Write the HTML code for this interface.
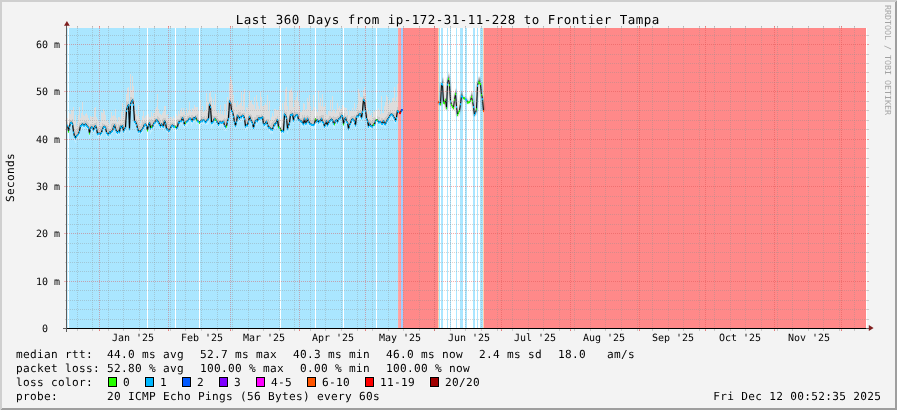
<!DOCTYPE html>
<html><head><meta charset="utf-8"><title>SmokePing</title>
<style>html,body{margin:0;padding:0;background:#f3f3f3;overflow:hidden}svg text{text-rendering:geometricPrecision}</style></head>
<body>
<svg width="897" height="410" viewBox="0 0 897 410" style="display:block">
<defs><linearGradient id="sg" x1="0" y1="0" x2="0" y2="1"><stop offset="0" stop-color="#000" stop-opacity="0"/><stop offset="1" stop-color="#000" stop-opacity="0.45"/></linearGradient></defs>
<rect width="897" height="410" fill="#f3f3f3"/>
<path d="M0 0H897L895 2H2V408L0 410Z" fill="#cfcfcf" shape-rendering="crispEdges"/>
<path d="M897 410H0L2 408H895V2L897 0Z" fill="#9e9e9e" shape-rendering="crispEdges"/>
<rect x="67" y="28" width="800" height="300" fill="#fff" shape-rendering="crispEdges"/>
<g shape-rendering="crispEdges">
<rect x="67" y="28" width="1" height="300" fill="#c4eeff"/>
<rect x="69" y="28" width="329" height="300" fill="#aae6ff"/>
<rect x="147" y="28" width="1" height="300" fill="#fff"/>
<rect x="175" y="28" width="1" height="300" fill="#fff"/>
<rect x="199" y="28" width="1" height="300" fill="#fff"/>
<rect x="280" y="28" width="1" height="300" fill="#fff"/>
<rect x="315" y="28" width="1" height="300" fill="#fff"/>
<rect x="343" y="28" width="1" height="300" fill="#fff"/>
<rect x="376" y="28" width="1" height="300" fill="#fff"/>
<rect x="398" y="28" width="40" height="300" fill="#ff8989"/>
<rect x="398" y="28" width="1" height="300" fill="#ffa8a4"/>
<rect x="399" y="28" width="2" height="300" fill="#ffa0a0"/>
<rect x="401" y="28" width="2" height="300" fill="#a3ccff"/>
<rect x="438" y="28" width="1" height="300" fill="#ffd2b0"/>
<rect x="439" y="28" width="1" height="300" fill="#aae6ff"/>
<rect x="441" y="28" width="2" height="300" fill="#aae6ff"/>
<rect x="447" y="28" width="1" height="300" fill="#aae6ff"/>
<rect x="450" y="28" width="1" height="300" fill="#aae6ff"/>
<rect x="456" y="28" width="1" height="300" fill="#aae6ff"/>
<rect x="460" y="28" width="3" height="300" fill="#aae6ff"/>
<rect x="465" y="28" width="2" height="300" fill="#aae6ff"/>
<rect x="473" y="28" width="2" height="300" fill="#aae6ff"/>
<rect x="477" y="28" width="1" height="300" fill="#aae6ff"/>
<rect x="480" y="28" width="3" height="300" fill="#aae6ff"/>
<rect x="483" y="28" width="1" height="300" fill="#ffd2b0"/>
<rect x="484" y="28" width="382" height="300" fill="#ff8989"/>
</g>
<g shape-rendering="crispEdges">
<rect x="67" y="117.8" width="1" height="7.3" fill="#dddddd"/>
<rect x="67" y="122.1" width="1" height="3.6" fill="#cbcbcb"/>
<rect x="67" y="125.1" width="1" height="3.5" fill="#fff" fill-opacity="0.25"/>
<rect x="69" y="112.9" width="1" height="13.9" fill="#dddddd"/>
<rect x="69" y="119.1" width="1" height="8.3" fill="#cbcbcb"/>
<rect x="69" y="126.9" width="1" height="4.9" fill="#fff" fill-opacity="0.25"/>
<rect x="70" y="113.6" width="1" height="9.1" fill="#dddddd"/>
<rect x="70" y="119.7" width="1" height="3.4" fill="#cbcbcb"/>
<rect x="70" y="122.7" width="1" height="3.6" fill="#fff" fill-opacity="0.25"/>
<rect x="71" y="110.4" width="1" height="11.9" fill="#dddddd"/>
<rect x="71" y="120.2" width="1" height="2.5" fill="#cbcbcb"/>
<rect x="71" y="122.3" width="1" height="4.6" fill="#fff" fill-opacity="0.25"/>
<rect x="72" y="110.2" width="1" height="13.7" fill="#dddddd"/>
<rect x="72" y="118.8" width="1" height="5.6" fill="#cbcbcb"/>
<rect x="72" y="123.9" width="1" height="5.4" fill="#fff" fill-opacity="0.25"/>
<rect x="73" y="107.2" width="1" height="24.8" fill="#dddddd"/>
<rect x="73" y="125.1" width="1" height="7.4" fill="#cbcbcb"/>
<rect x="73" y="132.0" width="1" height="3.1" fill="#fff" fill-opacity="0.25"/>
<rect x="74" y="120.8" width="1" height="15.4" fill="#dddddd"/>
<rect x="74" y="128.7" width="1" height="8.0" fill="#cbcbcb"/>
<rect x="74" y="136.1" width="1" height="4.5" fill="#fff" fill-opacity="0.25"/>
<rect x="75" y="115.0" width="1" height="23.0" fill="#dddddd"/>
<rect x="75" y="129.7" width="1" height="8.8" fill="#cbcbcb"/>
<rect x="75" y="138.0" width="1" height="4.8" fill="#fff" fill-opacity="0.25"/>
<rect x="76" y="125.6" width="1" height="10.1" fill="#dddddd"/>
<rect x="76" y="130.7" width="1" height="5.5" fill="#cbcbcb"/>
<rect x="76" y="135.7" width="1" height="3.5" fill="#fff" fill-opacity="0.25"/>
<rect x="77" y="122.0" width="1" height="13.0" fill="#dddddd"/>
<rect x="77" y="128.9" width="1" height="6.5" fill="#cbcbcb"/>
<rect x="77" y="134.9" width="1" height="5.3" fill="#fff" fill-opacity="0.25"/>
<rect x="78" y="115.4" width="1" height="18.4" fill="#dddddd"/>
<rect x="78" y="127.0" width="1" height="7.3" fill="#cbcbcb"/>
<rect x="78" y="133.8" width="1" height="5.2" fill="#fff" fill-opacity="0.25"/>
<rect x="79" y="106.9" width="1" height="24.3" fill="#dddddd"/>
<rect x="79" y="122.8" width="1" height="9.0" fill="#cbcbcb"/>
<rect x="79" y="131.2" width="1" height="4.5" fill="#fff" fill-opacity="0.25"/>
<rect x="80" y="117.6" width="1" height="8.1" fill="#dddddd"/>
<rect x="80" y="122.5" width="1" height="3.7" fill="#cbcbcb"/>
<rect x="80" y="125.7" width="1" height="5.4" fill="#fff" fill-opacity="0.25"/>
<rect x="81" y="113.2" width="1" height="12.0" fill="#dddddd"/>
<rect x="81" y="121.6" width="1" height="4.0" fill="#cbcbcb"/>
<rect x="81" y="125.2" width="1" height="5.1" fill="#fff" fill-opacity="0.25"/>
<rect x="82" y="102.2" width="1" height="21.8" fill="#dddddd"/>
<rect x="82" y="121.9" width="1" height="2.6" fill="#cbcbcb"/>
<rect x="82" y="124.0" width="1" height="3.2" fill="#fff" fill-opacity="0.25"/>
<rect x="83" y="115.4" width="1" height="9.7" fill="#dddddd"/>
<rect x="83" y="122.1" width="1" height="3.5" fill="#cbcbcb"/>
<rect x="83" y="125.1" width="1" height="5.2" fill="#fff" fill-opacity="0.25"/>
<rect x="84" y="115.6" width="1" height="9.6" fill="#dddddd"/>
<rect x="84" y="120.6" width="1" height="5.1" fill="#cbcbcb"/>
<rect x="84" y="125.2" width="1" height="3.8" fill="#fff" fill-opacity="0.25"/>
<rect x="85" y="113.6" width="1" height="10.3" fill="#dddddd"/>
<rect x="85" y="121.3" width="1" height="3.0" fill="#cbcbcb"/>
<rect x="85" y="123.9" width="1" height="2.6" fill="#fff" fill-opacity="0.25"/>
<rect x="86" y="112.6" width="1" height="12.8" fill="#dddddd"/>
<rect x="86" y="120.8" width="1" height="5.1" fill="#cbcbcb"/>
<rect x="86" y="125.4" width="1" height="3.0" fill="#fff" fill-opacity="0.25"/>
<rect x="87" y="115.3" width="1" height="11.1" fill="#dddddd"/>
<rect x="87" y="121.7" width="1" height="5.2" fill="#cbcbcb"/>
<rect x="87" y="126.4" width="1" height="4.1" fill="#fff" fill-opacity="0.25"/>
<rect x="88" y="118.2" width="1" height="9.4" fill="#dddddd"/>
<rect x="88" y="122.7" width="1" height="5.3" fill="#cbcbcb"/>
<rect x="88" y="127.6" width="1" height="3.2" fill="#fff" fill-opacity="0.25"/>
<rect x="89" y="120.4" width="1" height="12.6" fill="#dddddd"/>
<rect x="89" y="125.5" width="1" height="8.1" fill="#cbcbcb"/>
<rect x="89" y="133.1" width="1" height="4.8" fill="#fff" fill-opacity="0.25"/>
<rect x="90" y="116.2" width="1" height="12.6" fill="#dddddd"/>
<rect x="90" y="124.3" width="1" height="5.0" fill="#cbcbcb"/>
<rect x="90" y="128.8" width="1" height="4.0" fill="#fff" fill-opacity="0.25"/>
<rect x="91" y="117.4" width="1" height="9.4" fill="#dddddd"/>
<rect x="91" y="124.4" width="1" height="3.0" fill="#cbcbcb"/>
<rect x="91" y="126.8" width="1" height="5.3" fill="#fff" fill-opacity="0.25"/>
<rect x="92" y="115.8" width="1" height="11.8" fill="#dddddd"/>
<rect x="92" y="124.8" width="1" height="3.3" fill="#cbcbcb"/>
<rect x="92" y="127.6" width="1" height="4.2" fill="#fff" fill-opacity="0.25"/>
<rect x="93" y="116.9" width="1" height="13.1" fill="#dddddd"/>
<rect x="93" y="124.0" width="1" height="6.5" fill="#cbcbcb"/>
<rect x="93" y="130.0" width="1" height="3.8" fill="#fff" fill-opacity="0.25"/>
<rect x="94" y="108.3" width="1" height="18.8" fill="#dddddd"/>
<rect x="94" y="122.9" width="1" height="4.8" fill="#cbcbcb"/>
<rect x="94" y="127.2" width="1" height="4.9" fill="#fff" fill-opacity="0.25"/>
<rect x="95" y="106.9" width="1" height="18.8" fill="#dddddd"/>
<rect x="95" y="122.9" width="1" height="3.3" fill="#cbcbcb"/>
<rect x="95" y="125.7" width="1" height="2.9" fill="#fff" fill-opacity="0.25"/>
<rect x="96" y="116.8" width="1" height="12.0" fill="#dddddd"/>
<rect x="96" y="122.3" width="1" height="7.0" fill="#cbcbcb"/>
<rect x="96" y="128.8" width="1" height="3.7" fill="#fff" fill-opacity="0.25"/>
<rect x="97" y="118.9" width="1" height="14.8" fill="#dddddd"/>
<rect x="97" y="126.9" width="1" height="7.3" fill="#cbcbcb"/>
<rect x="97" y="133.7" width="1" height="3.8" fill="#fff" fill-opacity="0.25"/>
<rect x="98" y="121.4" width="1" height="11.8" fill="#dddddd"/>
<rect x="98" y="126.7" width="1" height="7.1" fill="#cbcbcb"/>
<rect x="98" y="133.2" width="1" height="4.7" fill="#fff" fill-opacity="0.25"/>
<rect x="99" y="126.1" width="1" height="7.0" fill="#dddddd"/>
<rect x="99" y="130.9" width="1" height="2.6" fill="#cbcbcb"/>
<rect x="99" y="133.1" width="1" height="3.5" fill="#fff" fill-opacity="0.25"/>
<rect x="100" y="122.0" width="1" height="11.9" fill="#dddddd"/>
<rect x="100" y="125.7" width="1" height="8.6" fill="#cbcbcb"/>
<rect x="100" y="133.9" width="1" height="4.9" fill="#fff" fill-opacity="0.25"/>
<rect x="101" y="112.0" width="1" height="20.5" fill="#dddddd"/>
<rect x="101" y="125.9" width="1" height="7.1" fill="#cbcbcb"/>
<rect x="101" y="132.5" width="1" height="4.8" fill="#fff" fill-opacity="0.25"/>
<rect x="102" y="112.5" width="1" height="16.8" fill="#dddddd"/>
<rect x="102" y="123.1" width="1" height="6.6" fill="#cbcbcb"/>
<rect x="102" y="129.2" width="1" height="5.0" fill="#fff" fill-opacity="0.25"/>
<rect x="103" y="108.5" width="1" height="18.4" fill="#dddddd"/>
<rect x="103" y="123.8" width="1" height="3.7" fill="#cbcbcb"/>
<rect x="103" y="126.9" width="1" height="4.6" fill="#fff" fill-opacity="0.25"/>
<rect x="104" y="111.0" width="1" height="15.4" fill="#dddddd"/>
<rect x="104" y="124.1" width="1" height="2.9" fill="#cbcbcb"/>
<rect x="104" y="126.4" width="1" height="2.7" fill="#fff" fill-opacity="0.25"/>
<rect x="105" y="115.0" width="1" height="12.6" fill="#dddddd"/>
<rect x="105" y="124.7" width="1" height="3.3" fill="#cbcbcb"/>
<rect x="105" y="127.6" width="1" height="5.1" fill="#fff" fill-opacity="0.25"/>
<rect x="106" y="120.9" width="1" height="11.6" fill="#dddddd"/>
<rect x="106" y="125.3" width="1" height="7.7" fill="#cbcbcb"/>
<rect x="106" y="132.5" width="1" height="4.2" fill="#fff" fill-opacity="0.25"/>
<rect x="107" y="120.1" width="1" height="13.7" fill="#dddddd"/>
<rect x="107" y="126.3" width="1" height="8.1" fill="#cbcbcb"/>
<rect x="107" y="133.9" width="1" height="3.2" fill="#fff" fill-opacity="0.25"/>
<rect x="108" y="121.5" width="1" height="12.8" fill="#dddddd"/>
<rect x="108" y="130.0" width="1" height="4.9" fill="#cbcbcb"/>
<rect x="108" y="134.3" width="1" height="3.4" fill="#fff" fill-opacity="0.25"/>
<rect x="109" y="124.3" width="1" height="7.5" fill="#dddddd"/>
<rect x="109" y="128.7" width="1" height="3.6" fill="#cbcbcb"/>
<rect x="109" y="131.9" width="1" height="3.0" fill="#fff" fill-opacity="0.25"/>
<rect x="110" y="117.7" width="1" height="15.1" fill="#dddddd"/>
<rect x="110" y="129.1" width="1" height="4.2" fill="#cbcbcb"/>
<rect x="110" y="132.8" width="1" height="4.7" fill="#fff" fill-opacity="0.25"/>
<rect x="111" y="111.9" width="1" height="19.3" fill="#dddddd"/>
<rect x="111" y="124.1" width="1" height="7.7" fill="#cbcbcb"/>
<rect x="111" y="131.2" width="1" height="2.8" fill="#fff" fill-opacity="0.25"/>
<rect x="112" y="115.9" width="1" height="14.8" fill="#dddddd"/>
<rect x="112" y="122.5" width="1" height="8.7" fill="#cbcbcb"/>
<rect x="112" y="130.6" width="1" height="3.7" fill="#fff" fill-opacity="0.25"/>
<rect x="113" y="114.7" width="1" height="12.8" fill="#dddddd"/>
<rect x="113" y="122.9" width="1" height="5.0" fill="#cbcbcb"/>
<rect x="113" y="127.4" width="1" height="5.0" fill="#fff" fill-opacity="0.25"/>
<rect x="114" y="116.2" width="1" height="8.9" fill="#dddddd"/>
<rect x="114" y="122.9" width="1" height="2.7" fill="#cbcbcb"/>
<rect x="114" y="125.1" width="1" height="2.7" fill="#fff" fill-opacity="0.25"/>
<rect x="115" y="109.2" width="1" height="19.6" fill="#dddddd"/>
<rect x="115" y="123.1" width="1" height="6.2" fill="#cbcbcb"/>
<rect x="115" y="128.8" width="1" height="3.0" fill="#fff" fill-opacity="0.25"/>
<rect x="116" y="118.1" width="1" height="13.3" fill="#dddddd"/>
<rect x="116" y="123.6" width="1" height="8.3" fill="#cbcbcb"/>
<rect x="116" y="131.4" width="1" height="3.3" fill="#fff" fill-opacity="0.25"/>
<rect x="117" y="121.5" width="1" height="11.0" fill="#dddddd"/>
<rect x="117" y="127.0" width="1" height="6.0" fill="#cbcbcb"/>
<rect x="117" y="132.5" width="1" height="3.8" fill="#fff" fill-opacity="0.25"/>
<rect x="118" y="116.9" width="1" height="14.0" fill="#dddddd"/>
<rect x="118" y="123.7" width="1" height="7.6" fill="#cbcbcb"/>
<rect x="118" y="130.9" width="1" height="3.2" fill="#fff" fill-opacity="0.25"/>
<rect x="119" y="117.1" width="1" height="14.8" fill="#dddddd"/>
<rect x="119" y="125.4" width="1" height="7.0" fill="#cbcbcb"/>
<rect x="119" y="131.9" width="1" height="3.6" fill="#fff" fill-opacity="0.25"/>
<rect x="120" y="118.5" width="1" height="7.8" fill="#dddddd"/>
<rect x="120" y="123.2" width="1" height="3.6" fill="#cbcbcb"/>
<rect x="120" y="126.3" width="1" height="2.5" fill="#fff" fill-opacity="0.25"/>
<rect x="121" y="112.0" width="1" height="15.1" fill="#dddddd"/>
<rect x="121" y="124.1" width="1" height="3.4" fill="#cbcbcb"/>
<rect x="121" y="127.1" width="1" height="2.6" fill="#fff" fill-opacity="0.25"/>
<rect x="122" y="103.3" width="1" height="22.4" fill="#dddddd"/>
<rect x="122" y="123.2" width="1" height="3.1" fill="#cbcbcb"/>
<rect x="122" y="125.7" width="1" height="4.8" fill="#fff" fill-opacity="0.25"/>
<rect x="123" y="115.6" width="1" height="15.6" fill="#dddddd"/>
<rect x="123" y="124.0" width="1" height="7.8" fill="#cbcbcb"/>
<rect x="123" y="131.2" width="1" height="3.5" fill="#fff" fill-opacity="0.25"/>
<rect x="124" y="104.8" width="1" height="24.2" fill="#dddddd"/>
<rect x="124" y="121.3" width="1" height="8.3" fill="#cbcbcb"/>
<rect x="124" y="129.1" width="1" height="2.6" fill="#fff" fill-opacity="0.25"/>
<rect x="125" y="112.2" width="1" height="15.4" fill="#dddddd"/>
<rect x="125" y="119.6" width="1" height="8.5" fill="#cbcbcb"/>
<rect x="125" y="127.6" width="1" height="4.9" fill="#fff" fill-opacity="0.25"/>
<rect x="126" y="93.8" width="1" height="16.6" fill="#dddddd"/>
<rect x="126" y="102.2" width="1" height="8.7" fill="#cbcbcb"/>
<rect x="126" y="110.4" width="1" height="4.9" fill="#fff" fill-opacity="0.25"/>
<rect x="127" y="87.8" width="1" height="18.9" fill="#dddddd"/>
<rect x="127" y="102.0" width="1" height="5.2" fill="#cbcbcb"/>
<rect x="127" y="106.8" width="1" height="4.6" fill="#fff" fill-opacity="0.25"/>
<rect x="128" y="87.2" width="1" height="17.6" fill="#dddddd"/>
<rect x="128" y="102.0" width="1" height="3.3" fill="#cbcbcb"/>
<rect x="128" y="104.9" width="1" height="2.8" fill="#fff" fill-opacity="0.25"/>
<rect x="129" y="108.6" width="1" height="20.2" fill="#dddddd"/>
<rect x="129" y="121.0" width="1" height="8.3" fill="#cbcbcb"/>
<rect x="129" y="128.8" width="1" height="4.5" fill="#fff" fill-opacity="0.25"/>
<rect x="130" y="73.9" width="1" height="30.3" fill="#dddddd"/>
<rect x="130" y="97.0" width="1" height="7.8" fill="#cbcbcb"/>
<rect x="130" y="104.3" width="1" height="4.0" fill="#fff" fill-opacity="0.25"/>
<rect x="131" y="89.9" width="1" height="11.9" fill="#dddddd"/>
<rect x="131" y="97.0" width="1" height="5.3" fill="#cbcbcb"/>
<rect x="131" y="101.8" width="1" height="3.3" fill="#fff" fill-opacity="0.25"/>
<rect x="132" y="76.4" width="1" height="23.5" fill="#dddddd"/>
<rect x="132" y="98.1" width="1" height="2.4" fill="#cbcbcb"/>
<rect x="132" y="100.0" width="1" height="4.7" fill="#fff" fill-opacity="0.25"/>
<rect x="133" y="85.9" width="1" height="18.4" fill="#dddddd"/>
<rect x="133" y="97.5" width="1" height="7.3" fill="#cbcbcb"/>
<rect x="133" y="104.3" width="1" height="4.6" fill="#fff" fill-opacity="0.25"/>
<rect x="134" y="101.4" width="1" height="20.1" fill="#dddddd"/>
<rect x="134" y="114.8" width="1" height="7.2" fill="#cbcbcb"/>
<rect x="134" y="121.4" width="1" height="2.9" fill="#fff" fill-opacity="0.25"/>
<rect x="135" y="110.1" width="1" height="11.7" fill="#dddddd"/>
<rect x="135" y="114.2" width="1" height="8.1" fill="#cbcbcb"/>
<rect x="135" y="121.9" width="1" height="2.5" fill="#fff" fill-opacity="0.25"/>
<rect x="136" y="114.0" width="1" height="10.5" fill="#dddddd"/>
<rect x="136" y="118.5" width="1" height="6.5" fill="#cbcbcb"/>
<rect x="136" y="124.5" width="1" height="4.5" fill="#fff" fill-opacity="0.25"/>
<rect x="137" y="115.7" width="1" height="12.5" fill="#dddddd"/>
<rect x="137" y="120.8" width="1" height="7.9" fill="#cbcbcb"/>
<rect x="137" y="128.2" width="1" height="2.9" fill="#fff" fill-opacity="0.25"/>
<rect x="138" y="105.3" width="1" height="25.9" fill="#dddddd"/>
<rect x="138" y="122.9" width="1" height="8.9" fill="#cbcbcb"/>
<rect x="138" y="131.2" width="1" height="2.6" fill="#fff" fill-opacity="0.25"/>
<rect x="139" y="118.0" width="1" height="12.6" fill="#dddddd"/>
<rect x="139" y="125.8" width="1" height="5.3" fill="#cbcbcb"/>
<rect x="139" y="130.7" width="1" height="3.3" fill="#fff" fill-opacity="0.25"/>
<rect x="140" y="122.6" width="1" height="9.2" fill="#dddddd"/>
<rect x="140" y="126.1" width="1" height="6.2" fill="#cbcbcb"/>
<rect x="140" y="131.9" width="1" height="2.9" fill="#fff" fill-opacity="0.25"/>
<rect x="141" y="119.9" width="1" height="10.2" fill="#dddddd"/>
<rect x="141" y="123.9" width="1" height="6.7" fill="#cbcbcb"/>
<rect x="141" y="130.1" width="1" height="4.0" fill="#fff" fill-opacity="0.25"/>
<rect x="142" y="115.5" width="1" height="13.3" fill="#dddddd"/>
<rect x="142" y="121.2" width="1" height="8.1" fill="#cbcbcb"/>
<rect x="142" y="128.8" width="1" height="4.0" fill="#fff" fill-opacity="0.25"/>
<rect x="143" y="110.6" width="1" height="16.4" fill="#dddddd"/>
<rect x="143" y="121.7" width="1" height="5.8" fill="#cbcbcb"/>
<rect x="143" y="127.0" width="1" height="3.4" fill="#fff" fill-opacity="0.25"/>
<rect x="144" y="117.8" width="1" height="6.7" fill="#dddddd"/>
<rect x="144" y="120.9" width="1" height="4.0" fill="#cbcbcb"/>
<rect x="144" y="124.5" width="1" height="2.5" fill="#fff" fill-opacity="0.25"/>
<rect x="145" y="116.1" width="1" height="8.0" fill="#dddddd"/>
<rect x="145" y="120.8" width="1" height="3.9" fill="#cbcbcb"/>
<rect x="145" y="124.1" width="1" height="4.6" fill="#fff" fill-opacity="0.25"/>
<rect x="146" y="114.5" width="1" height="11.5" fill="#dddddd"/>
<rect x="146" y="121.8" width="1" height="4.7" fill="#cbcbcb"/>
<rect x="146" y="126.0" width="1" height="5.5" fill="#fff" fill-opacity="0.25"/>
<rect x="148" y="114.1" width="1" height="11.0" fill="#dddddd"/>
<rect x="148" y="120.6" width="1" height="5.0" fill="#cbcbcb"/>
<rect x="148" y="125.1" width="1" height="2.6" fill="#fff" fill-opacity="0.25"/>
<rect x="149" y="116.6" width="1" height="6.0" fill="#dddddd"/>
<rect x="149" y="119.3" width="1" height="3.9" fill="#cbcbcb"/>
<rect x="149" y="122.7" width="1" height="3.2" fill="#fff" fill-opacity="0.25"/>
<rect x="150" y="116.9" width="1" height="11.3" fill="#dddddd"/>
<rect x="150" y="120.9" width="1" height="7.7" fill="#cbcbcb"/>
<rect x="150" y="128.2" width="1" height="5.4" fill="#fff" fill-opacity="0.25"/>
<rect x="151" y="112.1" width="1" height="14.1" fill="#dddddd"/>
<rect x="151" y="119.3" width="1" height="7.4" fill="#cbcbcb"/>
<rect x="151" y="126.2" width="1" height="5.3" fill="#fff" fill-opacity="0.25"/>
<rect x="152" y="115.5" width="1" height="11.4" fill="#dddddd"/>
<rect x="152" y="119.5" width="1" height="8.0" fill="#cbcbcb"/>
<rect x="152" y="126.9" width="1" height="3.9" fill="#fff" fill-opacity="0.25"/>
<rect x="153" y="113.2" width="1" height="10.8" fill="#dddddd"/>
<rect x="153" y="120.3" width="1" height="4.2" fill="#cbcbcb"/>
<rect x="153" y="124.0" width="1" height="5.3" fill="#fff" fill-opacity="0.25"/>
<rect x="154" y="113.2" width="1" height="9.2" fill="#dddddd"/>
<rect x="154" y="117.5" width="1" height="5.4" fill="#cbcbcb"/>
<rect x="154" y="122.4" width="1" height="4.7" fill="#fff" fill-opacity="0.25"/>
<rect x="155" y="108.6" width="1" height="13.3" fill="#dddddd"/>
<rect x="155" y="117.5" width="1" height="4.9" fill="#cbcbcb"/>
<rect x="155" y="121.9" width="1" height="4.2" fill="#fff" fill-opacity="0.25"/>
<rect x="156" y="107.2" width="1" height="12.4" fill="#dddddd"/>
<rect x="156" y="117.7" width="1" height="2.4" fill="#cbcbcb"/>
<rect x="156" y="119.6" width="1" height="5.2" fill="#fff" fill-opacity="0.25"/>
<rect x="157" y="93.9" width="1" height="27.0" fill="#dddddd"/>
<rect x="157" y="116.1" width="1" height="5.3" fill="#cbcbcb"/>
<rect x="157" y="120.9" width="1" height="3.8" fill="#fff" fill-opacity="0.25"/>
<rect x="158" y="108.8" width="1" height="13.2" fill="#dddddd"/>
<rect x="158" y="117.4" width="1" height="5.1" fill="#cbcbcb"/>
<rect x="158" y="122.0" width="1" height="2.8" fill="#fff" fill-opacity="0.25"/>
<rect x="159" y="113.2" width="1" height="11.4" fill="#dddddd"/>
<rect x="159" y="117.6" width="1" height="7.4" fill="#cbcbcb"/>
<rect x="159" y="124.5" width="1" height="4.7" fill="#fff" fill-opacity="0.25"/>
<rect x="160" y="113.8" width="1" height="12.5" fill="#dddddd"/>
<rect x="160" y="119.8" width="1" height="7.0" fill="#cbcbcb"/>
<rect x="160" y="126.3" width="1" height="3.5" fill="#fff" fill-opacity="0.25"/>
<rect x="161" y="115.3" width="1" height="8.6" fill="#dddddd"/>
<rect x="161" y="122.1" width="1" height="2.3" fill="#cbcbcb"/>
<rect x="161" y="123.9" width="1" height="4.0" fill="#fff" fill-opacity="0.25"/>
<rect x="162" y="112.9" width="1" height="12.9" fill="#dddddd"/>
<rect x="162" y="118.8" width="1" height="7.5" fill="#cbcbcb"/>
<rect x="162" y="125.8" width="1" height="3.2" fill="#fff" fill-opacity="0.25"/>
<rect x="163" y="111.4" width="1" height="14.9" fill="#dddddd"/>
<rect x="163" y="118.1" width="1" height="8.7" fill="#cbcbcb"/>
<rect x="163" y="126.3" width="1" height="5.1" fill="#fff" fill-opacity="0.25"/>
<rect x="164" y="105.6" width="1" height="15.3" fill="#dddddd"/>
<rect x="164" y="117.5" width="1" height="3.8" fill="#cbcbcb"/>
<rect x="164" y="120.8" width="1" height="3.9" fill="#fff" fill-opacity="0.25"/>
<rect x="165" y="105.8" width="1" height="17.2" fill="#dddddd"/>
<rect x="165" y="117.5" width="1" height="6.1" fill="#cbcbcb"/>
<rect x="165" y="123.1" width="1" height="5.0" fill="#fff" fill-opacity="0.25"/>
<rect x="166" y="114.9" width="1" height="13.9" fill="#dddddd"/>
<rect x="166" y="122.1" width="1" height="7.2" fill="#cbcbcb"/>
<rect x="166" y="128.8" width="1" height="3.0" fill="#fff" fill-opacity="0.25"/>
<rect x="167" y="113.5" width="1" height="15.4" fill="#dddddd"/>
<rect x="167" y="121.0" width="1" height="8.4" fill="#cbcbcb"/>
<rect x="167" y="128.9" width="1" height="4.4" fill="#fff" fill-opacity="0.25"/>
<rect x="168" y="118.5" width="1" height="12.2" fill="#dddddd"/>
<rect x="168" y="126.6" width="1" height="4.5" fill="#cbcbcb"/>
<rect x="168" y="130.6" width="1" height="4.8" fill="#fff" fill-opacity="0.25"/>
<rect x="169" y="117.7" width="1" height="12.4" fill="#dddddd"/>
<rect x="169" y="123.6" width="1" height="7.0" fill="#cbcbcb"/>
<rect x="169" y="130.1" width="1" height="2.9" fill="#fff" fill-opacity="0.25"/>
<rect x="170" y="116.8" width="1" height="11.4" fill="#dddddd"/>
<rect x="170" y="123.4" width="1" height="5.3" fill="#cbcbcb"/>
<rect x="170" y="128.2" width="1" height="2.7" fill="#fff" fill-opacity="0.25"/>
<rect x="171" y="117.0" width="1" height="8.8" fill="#dddddd"/>
<rect x="171" y="123.2" width="1" height="3.1" fill="#cbcbcb"/>
<rect x="171" y="125.7" width="1" height="4.3" fill="#fff" fill-opacity="0.25"/>
<rect x="172" y="118.7" width="1" height="6.4" fill="#dddddd"/>
<rect x="172" y="121.7" width="1" height="3.9" fill="#cbcbcb"/>
<rect x="172" y="125.1" width="1" height="4.4" fill="#fff" fill-opacity="0.25"/>
<rect x="173" y="116.1" width="1" height="10.2" fill="#dddddd"/>
<rect x="173" y="123.1" width="1" height="3.7" fill="#cbcbcb"/>
<rect x="173" y="126.3" width="1" height="5.4" fill="#fff" fill-opacity="0.25"/>
<rect x="174" y="117.7" width="1" height="8.6" fill="#dddddd"/>
<rect x="174" y="122.6" width="1" height="4.2" fill="#cbcbcb"/>
<rect x="174" y="126.3" width="1" height="4.5" fill="#fff" fill-opacity="0.25"/>
<rect x="176" y="114.3" width="1" height="13.8" fill="#dddddd"/>
<rect x="176" y="119.8" width="1" height="8.9" fill="#cbcbcb"/>
<rect x="176" y="128.2" width="1" height="3.2" fill="#fff" fill-opacity="0.25"/>
<rect x="177" y="115.8" width="1" height="11.3" fill="#dddddd"/>
<rect x="177" y="119.2" width="1" height="8.4" fill="#cbcbcb"/>
<rect x="177" y="127.1" width="1" height="3.1" fill="#fff" fill-opacity="0.25"/>
<rect x="178" y="110.8" width="1" height="11.3" fill="#dddddd"/>
<rect x="178" y="118.6" width="1" height="4.0" fill="#cbcbcb"/>
<rect x="178" y="122.0" width="1" height="5.4" fill="#fff" fill-opacity="0.25"/>
<rect x="179" y="113.8" width="1" height="8.5" fill="#dddddd"/>
<rect x="179" y="118.6" width="1" height="4.3" fill="#cbcbcb"/>
<rect x="179" y="122.3" width="1" height="4.8" fill="#fff" fill-opacity="0.25"/>
<rect x="180" y="110.1" width="1" height="10.4" fill="#dddddd"/>
<rect x="180" y="115.9" width="1" height="5.1" fill="#cbcbcb"/>
<rect x="180" y="120.5" width="1" height="3.2" fill="#fff" fill-opacity="0.25"/>
<rect x="181" y="107.8" width="1" height="13.0" fill="#dddddd"/>
<rect x="181" y="116.0" width="1" height="5.4" fill="#cbcbcb"/>
<rect x="181" y="120.8" width="1" height="3.7" fill="#fff" fill-opacity="0.25"/>
<rect x="182" y="111.8" width="1" height="5.9" fill="#dddddd"/>
<rect x="182" y="116.1" width="1" height="2.1" fill="#cbcbcb"/>
<rect x="182" y="117.8" width="1" height="2.7" fill="#fff" fill-opacity="0.25"/>
<rect x="183" y="108.1" width="1" height="13.0" fill="#dddddd"/>
<rect x="183" y="114.8" width="1" height="6.8" fill="#cbcbcb"/>
<rect x="183" y="121.1" width="1" height="5.5" fill="#fff" fill-opacity="0.25"/>
<rect x="184" y="110.5" width="1" height="14.0" fill="#dddddd"/>
<rect x="184" y="116.1" width="1" height="8.9" fill="#cbcbcb"/>
<rect x="184" y="124.5" width="1" height="4.7" fill="#fff" fill-opacity="0.25"/>
<rect x="185" y="114.7" width="1" height="7.6" fill="#dddddd"/>
<rect x="185" y="118.6" width="1" height="4.2" fill="#cbcbcb"/>
<rect x="185" y="122.3" width="1" height="3.5" fill="#fff" fill-opacity="0.25"/>
<rect x="186" y="107.5" width="1" height="14.2" fill="#dddddd"/>
<rect x="186" y="117.7" width="1" height="4.5" fill="#cbcbcb"/>
<rect x="186" y="121.7" width="1" height="5.4" fill="#fff" fill-opacity="0.25"/>
<rect x="187" y="112.5" width="1" height="8.3" fill="#dddddd"/>
<rect x="187" y="116.2" width="1" height="5.2" fill="#cbcbcb"/>
<rect x="187" y="120.8" width="1" height="5.0" fill="#fff" fill-opacity="0.25"/>
<rect x="188" y="110.4" width="1" height="9.6" fill="#dddddd"/>
<rect x="188" y="115.9" width="1" height="4.5" fill="#cbcbcb"/>
<rect x="188" y="119.9" width="1" height="3.6" fill="#fff" fill-opacity="0.25"/>
<rect x="189" y="102.3" width="1" height="16.1" fill="#dddddd"/>
<rect x="189" y="115.1" width="1" height="3.8" fill="#cbcbcb"/>
<rect x="189" y="118.4" width="1" height="2.6" fill="#fff" fill-opacity="0.25"/>
<rect x="190" y="109.2" width="1" height="9.3" fill="#dddddd"/>
<rect x="190" y="116.8" width="1" height="2.2" fill="#cbcbcb"/>
<rect x="190" y="118.4" width="1" height="2.6" fill="#fff" fill-opacity="0.25"/>
<rect x="191" y="112.1" width="1" height="8.2" fill="#dddddd"/>
<rect x="191" y="114.8" width="1" height="5.9" fill="#cbcbcb"/>
<rect x="191" y="120.3" width="1" height="5.2" fill="#fff" fill-opacity="0.25"/>
<rect x="192" y="108.2" width="1" height="12.7" fill="#dddddd"/>
<rect x="192" y="115.1" width="1" height="6.2" fill="#cbcbcb"/>
<rect x="192" y="120.8" width="1" height="3.3" fill="#fff" fill-opacity="0.25"/>
<rect x="193" y="108.7" width="1" height="9.2" fill="#dddddd"/>
<rect x="193" y="115.6" width="1" height="2.7" fill="#cbcbcb"/>
<rect x="193" y="117.8" width="1" height="4.8" fill="#fff" fill-opacity="0.25"/>
<rect x="194" y="105.2" width="1" height="13.3" fill="#dddddd"/>
<rect x="194" y="115.6" width="1" height="3.4" fill="#cbcbcb"/>
<rect x="194" y="118.5" width="1" height="3.2" fill="#fff" fill-opacity="0.25"/>
<rect x="195" y="106.9" width="1" height="10.2" fill="#dddddd"/>
<rect x="195" y="114.9" width="1" height="2.8" fill="#cbcbcb"/>
<rect x="195" y="117.1" width="1" height="3.3" fill="#fff" fill-opacity="0.25"/>
<rect x="196" y="107.2" width="1" height="12.6" fill="#dddddd"/>
<rect x="196" y="115.3" width="1" height="5.1" fill="#cbcbcb"/>
<rect x="196" y="119.8" width="1" height="4.9" fill="#fff" fill-opacity="0.25"/>
<rect x="197" y="106.6" width="1" height="14.2" fill="#dddddd"/>
<rect x="197" y="114.4" width="1" height="6.9" fill="#cbcbcb"/>
<rect x="197" y="120.8" width="1" height="3.5" fill="#fff" fill-opacity="0.25"/>
<rect x="198" y="110.9" width="1" height="10.3" fill="#dddddd"/>
<rect x="198" y="118.2" width="1" height="3.6" fill="#cbcbcb"/>
<rect x="198" y="121.2" width="1" height="3.1" fill="#fff" fill-opacity="0.25"/>
<rect x="200" y="100.2" width="1" height="21.3" fill="#dddddd"/>
<rect x="200" y="118.6" width="1" height="3.3" fill="#cbcbcb"/>
<rect x="200" y="121.4" width="1" height="4.2" fill="#fff" fill-opacity="0.25"/>
<rect x="201" y="110.3" width="1" height="9.9" fill="#dddddd"/>
<rect x="201" y="116.1" width="1" height="4.6" fill="#cbcbcb"/>
<rect x="201" y="120.2" width="1" height="3.3" fill="#fff" fill-opacity="0.25"/>
<rect x="202" y="105.8" width="1" height="15.1" fill="#dddddd"/>
<rect x="202" y="116.7" width="1" height="4.7" fill="#cbcbcb"/>
<rect x="202" y="120.8" width="1" height="3.8" fill="#fff" fill-opacity="0.25"/>
<rect x="203" y="111.7" width="1" height="7.9" fill="#dddddd"/>
<rect x="203" y="116.7" width="1" height="3.3" fill="#cbcbcb"/>
<rect x="203" y="119.6" width="1" height="4.7" fill="#fff" fill-opacity="0.25"/>
<rect x="204" y="111.2" width="1" height="9.6" fill="#dddddd"/>
<rect x="204" y="116.4" width="1" height="4.9" fill="#cbcbcb"/>
<rect x="204" y="120.8" width="1" height="3.4" fill="#fff" fill-opacity="0.25"/>
<rect x="205" y="109.9" width="1" height="12.2" fill="#dddddd"/>
<rect x="205" y="117.7" width="1" height="4.9" fill="#cbcbcb"/>
<rect x="205" y="122.0" width="1" height="3.2" fill="#fff" fill-opacity="0.25"/>
<rect x="206" y="92.6" width="1" height="28.6" fill="#dddddd"/>
<rect x="206" y="116.0" width="1" height="5.6" fill="#cbcbcb"/>
<rect x="206" y="121.2" width="1" height="3.5" fill="#fff" fill-opacity="0.25"/>
<rect x="207" y="102.0" width="1" height="17.6" fill="#dddddd"/>
<rect x="207" y="112.6" width="1" height="7.5" fill="#cbcbcb"/>
<rect x="207" y="119.6" width="1" height="4.9" fill="#fff" fill-opacity="0.25"/>
<rect x="208" y="102.9" width="1" height="15.8" fill="#dddddd"/>
<rect x="208" y="111.2" width="1" height="7.9" fill="#cbcbcb"/>
<rect x="208" y="118.7" width="1" height="5.0" fill="#fff" fill-opacity="0.25"/>
<rect x="209" y="93.1" width="1" height="11.1" fill="#dddddd"/>
<rect x="209" y="102.2" width="1" height="2.6" fill="#cbcbcb"/>
<rect x="209" y="104.3" width="1" height="2.9" fill="#fff" fill-opacity="0.25"/>
<rect x="210" y="91.9" width="1" height="14.8" fill="#dddddd"/>
<rect x="210" y="100.9" width="1" height="6.3" fill="#cbcbcb"/>
<rect x="210" y="106.7" width="1" height="3.6" fill="#fff" fill-opacity="0.25"/>
<rect x="211" y="96.6" width="1" height="26.1" fill="#dddddd"/>
<rect x="211" y="114.6" width="1" height="8.6" fill="#cbcbcb"/>
<rect x="211" y="122.7" width="1" height="5.3" fill="#fff" fill-opacity="0.25"/>
<rect x="212" y="104.9" width="1" height="17.3" fill="#dddddd"/>
<rect x="212" y="115.2" width="1" height="7.4" fill="#cbcbcb"/>
<rect x="212" y="122.2" width="1" height="3.6" fill="#fff" fill-opacity="0.25"/>
<rect x="213" y="99.3" width="1" height="21.6" fill="#dddddd"/>
<rect x="213" y="115.7" width="1" height="5.7" fill="#cbcbcb"/>
<rect x="213" y="120.9" width="1" height="4.5" fill="#fff" fill-opacity="0.25"/>
<rect x="214" y="105.4" width="1" height="12.9" fill="#dddddd"/>
<rect x="214" y="115.5" width="1" height="3.4" fill="#cbcbcb"/>
<rect x="214" y="118.4" width="1" height="3.1" fill="#fff" fill-opacity="0.25"/>
<rect x="215" y="94.3" width="1" height="25.3" fill="#dddddd"/>
<rect x="215" y="115.8" width="1" height="4.3" fill="#cbcbcb"/>
<rect x="215" y="119.5" width="1" height="2.7" fill="#fff" fill-opacity="0.25"/>
<rect x="216" y="111.3" width="1" height="9.6" fill="#dddddd"/>
<rect x="216" y="115.6" width="1" height="5.7" fill="#cbcbcb"/>
<rect x="216" y="120.8" width="1" height="2.8" fill="#fff" fill-opacity="0.25"/>
<rect x="217" y="112.8" width="1" height="10.2" fill="#dddddd"/>
<rect x="217" y="117.5" width="1" height="5.9" fill="#cbcbcb"/>
<rect x="217" y="122.9" width="1" height="3.4" fill="#fff" fill-opacity="0.25"/>
<rect x="218" y="110.2" width="1" height="14.3" fill="#dddddd"/>
<rect x="218" y="118.6" width="1" height="6.4" fill="#cbcbcb"/>
<rect x="218" y="124.5" width="1" height="3.7" fill="#fff" fill-opacity="0.25"/>
<rect x="219" y="112.6" width="1" height="9.6" fill="#dddddd"/>
<rect x="219" y="120.2" width="1" height="2.6" fill="#cbcbcb"/>
<rect x="219" y="122.2" width="1" height="4.7" fill="#fff" fill-opacity="0.25"/>
<rect x="220" y="104.5" width="1" height="17.5" fill="#dddddd"/>
<rect x="220" y="119.7" width="1" height="2.8" fill="#cbcbcb"/>
<rect x="220" y="122.0" width="1" height="5.0" fill="#fff" fill-opacity="0.25"/>
<rect x="221" y="113.5" width="1" height="9.1" fill="#dddddd"/>
<rect x="221" y="119.6" width="1" height="3.4" fill="#cbcbcb"/>
<rect x="221" y="122.5" width="1" height="2.5" fill="#fff" fill-opacity="0.25"/>
<rect x="222" y="111.1" width="1" height="11.0" fill="#dddddd"/>
<rect x="222" y="119.8" width="1" height="2.9" fill="#cbcbcb"/>
<rect x="222" y="122.1" width="1" height="4.4" fill="#fff" fill-opacity="0.25"/>
<rect x="223" y="114.9" width="1" height="6.6" fill="#dddddd"/>
<rect x="223" y="119.4" width="1" height="2.6" fill="#cbcbcb"/>
<rect x="223" y="121.4" width="1" height="4.1" fill="#fff" fill-opacity="0.25"/>
<rect x="224" y="104.3" width="1" height="21.0" fill="#dddddd"/>
<rect x="224" y="118.3" width="1" height="7.5" fill="#cbcbcb"/>
<rect x="224" y="125.3" width="1" height="5.4" fill="#fff" fill-opacity="0.25"/>
<rect x="225" y="104.1" width="1" height="22.8" fill="#dddddd"/>
<rect x="225" y="118.5" width="1" height="9.0" fill="#cbcbcb"/>
<rect x="225" y="126.9" width="1" height="3.9" fill="#fff" fill-opacity="0.25"/>
<rect x="226" y="114.8" width="1" height="11.3" fill="#dddddd"/>
<rect x="226" y="117.8" width="1" height="8.8" fill="#cbcbcb"/>
<rect x="226" y="126.1" width="1" height="4.4" fill="#fff" fill-opacity="0.25"/>
<rect x="227" y="97.3" width="1" height="24.1" fill="#dddddd"/>
<rect x="227" y="114.5" width="1" height="7.4" fill="#cbcbcb"/>
<rect x="227" y="121.4" width="1" height="3.7" fill="#fff" fill-opacity="0.25"/>
<rect x="228" y="101.2" width="1" height="17.2" fill="#dddddd"/>
<rect x="228" y="111.4" width="1" height="7.4" fill="#cbcbcb"/>
<rect x="228" y="118.4" width="1" height="3.7" fill="#fff" fill-opacity="0.25"/>
<rect x="229" y="83.1" width="1" height="18.0" fill="#dddddd"/>
<rect x="229" y="99.2" width="1" height="2.5" fill="#cbcbcb"/>
<rect x="229" y="101.2" width="1" height="4.7" fill="#fff" fill-opacity="0.25"/>
<rect x="230" y="76.4" width="1" height="26.1" fill="#dddddd"/>
<rect x="230" y="98.2" width="1" height="4.7" fill="#cbcbcb"/>
<rect x="230" y="102.4" width="1" height="2.6" fill="#fff" fill-opacity="0.25"/>
<rect x="231" y="80.3" width="1" height="30.0" fill="#dddddd"/>
<rect x="231" y="102.8" width="1" height="8.1" fill="#cbcbcb"/>
<rect x="231" y="110.4" width="1" height="4.4" fill="#fff" fill-opacity="0.25"/>
<rect x="232" y="84.5" width="1" height="27.7" fill="#dddddd"/>
<rect x="232" y="104.9" width="1" height="7.9" fill="#cbcbcb"/>
<rect x="232" y="112.2" width="1" height="4.5" fill="#fff" fill-opacity="0.25"/>
<rect x="233" y="94.6" width="1" height="21.6" fill="#dddddd"/>
<rect x="233" y="108.5" width="1" height="8.2" fill="#cbcbcb"/>
<rect x="233" y="116.2" width="1" height="4.0" fill="#fff" fill-opacity="0.25"/>
<rect x="234" y="103.1" width="1" height="18.9" fill="#dddddd"/>
<rect x="234" y="114.6" width="1" height="7.9" fill="#cbcbcb"/>
<rect x="234" y="122.0" width="1" height="3.0" fill="#fff" fill-opacity="0.25"/>
<rect x="235" y="102.8" width="1" height="22.9" fill="#dddddd"/>
<rect x="235" y="118.4" width="1" height="7.9" fill="#cbcbcb"/>
<rect x="235" y="125.7" width="1" height="2.8" fill="#fff" fill-opacity="0.25"/>
<rect x="236" y="107.2" width="1" height="14.6" fill="#dddddd"/>
<rect x="236" y="114.0" width="1" height="8.3" fill="#cbcbcb"/>
<rect x="236" y="121.8" width="1" height="2.7" fill="#fff" fill-opacity="0.25"/>
<rect x="237" y="101.3" width="1" height="14.0" fill="#dddddd"/>
<rect x="237" y="113.7" width="1" height="2.1" fill="#cbcbcb"/>
<rect x="237" y="115.3" width="1" height="4.0" fill="#fff" fill-opacity="0.25"/>
<rect x="238" y="105.3" width="1" height="11.7" fill="#dddddd"/>
<rect x="238" y="112.1" width="1" height="5.4" fill="#cbcbcb"/>
<rect x="238" y="117.0" width="1" height="5.5" fill="#fff" fill-opacity="0.25"/>
<rect x="239" y="103.5" width="1" height="14.9" fill="#dddddd"/>
<rect x="239" y="111.8" width="1" height="7.0" fill="#cbcbcb"/>
<rect x="239" y="118.4" width="1" height="4.0" fill="#fff" fill-opacity="0.25"/>
<rect x="240" y="102.9" width="1" height="13.6" fill="#dddddd"/>
<rect x="240" y="112.3" width="1" height="4.7" fill="#cbcbcb"/>
<rect x="240" y="116.5" width="1" height="5.3" fill="#fff" fill-opacity="0.25"/>
<rect x="241" y="91.5" width="1" height="25.5" fill="#dddddd"/>
<rect x="241" y="113.5" width="1" height="4.0" fill="#cbcbcb"/>
<rect x="241" y="117.0" width="1" height="5.2" fill="#fff" fill-opacity="0.25"/>
<rect x="242" y="105.8" width="1" height="9.6" fill="#dddddd"/>
<rect x="242" y="112.9" width="1" height="3.0" fill="#cbcbcb"/>
<rect x="242" y="115.4" width="1" height="5.3" fill="#fff" fill-opacity="0.25"/>
<rect x="243" y="94.0" width="1" height="22.0" fill="#dddddd"/>
<rect x="243" y="113.2" width="1" height="3.2" fill="#cbcbcb"/>
<rect x="243" y="115.9" width="1" height="2.6" fill="#fff" fill-opacity="0.25"/>
<rect x="244" y="88.9" width="1" height="29.5" fill="#dddddd"/>
<rect x="244" y="112.5" width="1" height="6.4" fill="#cbcbcb"/>
<rect x="244" y="118.4" width="1" height="5.2" fill="#fff" fill-opacity="0.25"/>
<rect x="245" y="112.4" width="1" height="14.0" fill="#dddddd"/>
<rect x="245" y="118.8" width="1" height="8.1" fill="#cbcbcb"/>
<rect x="245" y="126.3" width="1" height="4.4" fill="#fff" fill-opacity="0.25"/>
<rect x="246" y="106.9" width="1" height="17.8" fill="#dddddd"/>
<rect x="246" y="117.0" width="1" height="8.2" fill="#cbcbcb"/>
<rect x="246" y="124.7" width="1" height="5.1" fill="#fff" fill-opacity="0.25"/>
<rect x="247" y="107.8" width="1" height="17.3" fill="#dddddd"/>
<rect x="247" y="117.8" width="1" height="7.8" fill="#cbcbcb"/>
<rect x="247" y="125.1" width="1" height="4.9" fill="#fff" fill-opacity="0.25"/>
<rect x="248" y="103.9" width="1" height="17.4" fill="#dddddd"/>
<rect x="248" y="114.3" width="1" height="7.5" fill="#cbcbcb"/>
<rect x="248" y="121.3" width="1" height="4.8" fill="#fff" fill-opacity="0.25"/>
<rect x="249" y="91.3" width="1" height="25.2" fill="#dddddd"/>
<rect x="249" y="114.9" width="1" height="2.1" fill="#cbcbcb"/>
<rect x="249" y="116.5" width="1" height="5.0" fill="#fff" fill-opacity="0.25"/>
<rect x="250" y="101.1" width="1" height="18.1" fill="#dddddd"/>
<rect x="250" y="113.9" width="1" height="5.8" fill="#cbcbcb"/>
<rect x="250" y="119.2" width="1" height="4.5" fill="#fff" fill-opacity="0.25"/>
<rect x="251" y="100.4" width="1" height="21.1" fill="#dddddd"/>
<rect x="251" y="114.7" width="1" height="7.2" fill="#cbcbcb"/>
<rect x="251" y="121.4" width="1" height="4.3" fill="#fff" fill-opacity="0.25"/>
<rect x="252" y="103.7" width="1" height="19.5" fill="#dddddd"/>
<rect x="252" y="117.4" width="1" height="6.3" fill="#cbcbcb"/>
<rect x="252" y="123.2" width="1" height="3.2" fill="#fff" fill-opacity="0.25"/>
<rect x="253" y="105.4" width="1" height="22.1" fill="#dddddd"/>
<rect x="253" y="120.4" width="1" height="7.7" fill="#cbcbcb"/>
<rect x="253" y="127.6" width="1" height="2.8" fill="#fff" fill-opacity="0.25"/>
<rect x="254" y="97.2" width="1" height="26.8" fill="#dddddd"/>
<rect x="254" y="117.4" width="1" height="7.1" fill="#cbcbcb"/>
<rect x="254" y="124.0" width="1" height="3.1" fill="#fff" fill-opacity="0.25"/>
<rect x="255" y="109.2" width="1" height="11.6" fill="#dddddd"/>
<rect x="255" y="116.7" width="1" height="4.6" fill="#cbcbcb"/>
<rect x="255" y="120.8" width="1" height="3.2" fill="#fff" fill-opacity="0.25"/>
<rect x="256" y="95.1" width="1" height="25.0" fill="#dddddd"/>
<rect x="256" y="114.6" width="1" height="6.0" fill="#cbcbcb"/>
<rect x="256" y="120.1" width="1" height="4.8" fill="#fff" fill-opacity="0.25"/>
<rect x="257" y="101.6" width="1" height="19.3" fill="#dddddd"/>
<rect x="257" y="115.1" width="1" height="6.3" fill="#cbcbcb"/>
<rect x="257" y="120.9" width="1" height="4.2" fill="#fff" fill-opacity="0.25"/>
<rect x="258" y="105.8" width="1" height="12.0" fill="#dddddd"/>
<rect x="258" y="114.5" width="1" height="3.9" fill="#cbcbcb"/>
<rect x="258" y="117.9" width="1" height="4.7" fill="#fff" fill-opacity="0.25"/>
<rect x="259" y="109.0" width="1" height="9.4" fill="#dddddd"/>
<rect x="259" y="115.2" width="1" height="3.7" fill="#cbcbcb"/>
<rect x="259" y="118.4" width="1" height="3.7" fill="#fff" fill-opacity="0.25"/>
<rect x="260" y="92.3" width="1" height="25.5" fill="#dddddd"/>
<rect x="260" y="115.6" width="1" height="2.7" fill="#cbcbcb"/>
<rect x="260" y="117.9" width="1" height="4.2" fill="#fff" fill-opacity="0.25"/>
<rect x="261" y="96.5" width="1" height="21.3" fill="#dddddd"/>
<rect x="261" y="114.4" width="1" height="3.8" fill="#cbcbcb"/>
<rect x="261" y="117.8" width="1" height="4.0" fill="#fff" fill-opacity="0.25"/>
<rect x="262" y="105.9" width="1" height="11.3" fill="#dddddd"/>
<rect x="262" y="115.0" width="1" height="2.6" fill="#cbcbcb"/>
<rect x="262" y="117.1" width="1" height="3.4" fill="#fff" fill-opacity="0.25"/>
<rect x="263" y="105.7" width="1" height="18.2" fill="#dddddd"/>
<rect x="263" y="116.0" width="1" height="8.4" fill="#cbcbcb"/>
<rect x="263" y="123.9" width="1" height="2.5" fill="#fff" fill-opacity="0.25"/>
<rect x="264" y="105.3" width="1" height="19.1" fill="#dddddd"/>
<rect x="264" y="116.5" width="1" height="8.5" fill="#cbcbcb"/>
<rect x="264" y="124.4" width="1" height="3.9" fill="#fff" fill-opacity="0.25"/>
<rect x="265" y="103.2" width="1" height="20.0" fill="#dddddd"/>
<rect x="265" y="119.9" width="1" height="3.9" fill="#cbcbcb"/>
<rect x="265" y="123.2" width="1" height="3.5" fill="#fff" fill-opacity="0.25"/>
<rect x="266" y="105.0" width="1" height="16.4" fill="#dddddd"/>
<rect x="266" y="118.5" width="1" height="3.4" fill="#cbcbcb"/>
<rect x="266" y="121.4" width="1" height="3.3" fill="#fff" fill-opacity="0.25"/>
<rect x="267" y="95.3" width="1" height="29.2" fill="#dddddd"/>
<rect x="267" y="118.9" width="1" height="6.1" fill="#cbcbcb"/>
<rect x="267" y="124.5" width="1" height="3.3" fill="#fff" fill-opacity="0.25"/>
<rect x="268" y="110.6" width="1" height="16.6" fill="#dddddd"/>
<rect x="268" y="118.9" width="1" height="8.8" fill="#cbcbcb"/>
<rect x="268" y="127.2" width="1" height="2.5" fill="#fff" fill-opacity="0.25"/>
<rect x="269" y="101.0" width="1" height="26.2" fill="#dddddd"/>
<rect x="269" y="121.1" width="1" height="6.6" fill="#cbcbcb"/>
<rect x="269" y="127.2" width="1" height="4.7" fill="#fff" fill-opacity="0.25"/>
<rect x="270" y="120.1" width="1" height="8.7" fill="#dddddd"/>
<rect x="270" y="125.2" width="1" height="4.1" fill="#cbcbcb"/>
<rect x="270" y="128.8" width="1" height="5.2" fill="#fff" fill-opacity="0.25"/>
<rect x="271" y="117.0" width="1" height="11.9" fill="#dddddd"/>
<rect x="271" y="123.3" width="1" height="6.1" fill="#cbcbcb"/>
<rect x="271" y="128.9" width="1" height="3.9" fill="#fff" fill-opacity="0.25"/>
<rect x="272" y="113.1" width="1" height="16.3" fill="#dddddd"/>
<rect x="272" y="122.0" width="1" height="7.9" fill="#cbcbcb"/>
<rect x="272" y="129.4" width="1" height="4.7" fill="#fff" fill-opacity="0.25"/>
<rect x="273" y="116.3" width="1" height="10.5" fill="#dddddd"/>
<rect x="273" y="121.1" width="1" height="6.1" fill="#cbcbcb"/>
<rect x="273" y="126.7" width="1" height="2.7" fill="#fff" fill-opacity="0.25"/>
<rect x="274" y="108.7" width="1" height="15.2" fill="#dddddd"/>
<rect x="274" y="120.3" width="1" height="4.0" fill="#cbcbcb"/>
<rect x="274" y="123.9" width="1" height="5.3" fill="#fff" fill-opacity="0.25"/>
<rect x="275" y="108.5" width="1" height="15.4" fill="#dddddd"/>
<rect x="275" y="118.0" width="1" height="6.4" fill="#cbcbcb"/>
<rect x="275" y="123.9" width="1" height="4.6" fill="#fff" fill-opacity="0.25"/>
<rect x="276" y="109.6" width="1" height="12.4" fill="#dddddd"/>
<rect x="276" y="118.0" width="1" height="4.6" fill="#cbcbcb"/>
<rect x="276" y="122.1" width="1" height="4.3" fill="#fff" fill-opacity="0.25"/>
<rect x="277" y="110.4" width="1" height="9.2" fill="#dddddd"/>
<rect x="277" y="116.3" width="1" height="3.8" fill="#cbcbcb"/>
<rect x="277" y="119.6" width="1" height="2.7" fill="#fff" fill-opacity="0.25"/>
<rect x="278" y="110.2" width="1" height="16.7" fill="#dddddd"/>
<rect x="278" y="120.2" width="1" height="7.2" fill="#cbcbcb"/>
<rect x="278" y="126.9" width="1" height="3.1" fill="#fff" fill-opacity="0.25"/>
<rect x="279" y="105.7" width="1" height="21.7" fill="#dddddd"/>
<rect x="279" y="119.3" width="1" height="8.6" fill="#cbcbcb"/>
<rect x="279" y="127.4" width="1" height="4.4" fill="#fff" fill-opacity="0.25"/>
<rect x="281" y="118.5" width="1" height="12.8" fill="#dddddd"/>
<rect x="281" y="125.7" width="1" height="6.0" fill="#cbcbcb"/>
<rect x="281" y="131.2" width="1" height="2.8" fill="#fff" fill-opacity="0.25"/>
<rect x="282" y="103.4" width="1" height="27.1" fill="#dddddd"/>
<rect x="282" y="123.1" width="1" height="7.8" fill="#cbcbcb"/>
<rect x="282" y="130.4" width="1" height="2.6" fill="#fff" fill-opacity="0.25"/>
<rect x="283" y="117.9" width="1" height="13.4" fill="#dddddd"/>
<rect x="283" y="124.0" width="1" height="7.7" fill="#cbcbcb"/>
<rect x="283" y="131.2" width="1" height="3.5" fill="#fff" fill-opacity="0.25"/>
<rect x="284" y="102.3" width="1" height="11.8" fill="#dddddd"/>
<rect x="284" y="111.3" width="1" height="3.2" fill="#cbcbcb"/>
<rect x="284" y="114.1" width="1" height="2.6" fill="#fff" fill-opacity="0.25"/>
<rect x="285" y="88.6" width="1" height="26.8" fill="#dddddd"/>
<rect x="285" y="111.9" width="1" height="4.0" fill="#cbcbcb"/>
<rect x="285" y="115.4" width="1" height="4.6" fill="#fff" fill-opacity="0.25"/>
<rect x="286" y="87.1" width="1" height="30.7" fill="#dddddd"/>
<rect x="286" y="112.4" width="1" height="5.9" fill="#cbcbcb"/>
<rect x="286" y="117.8" width="1" height="5.0" fill="#fff" fill-opacity="0.25"/>
<rect x="287" y="106.2" width="1" height="22.6" fill="#dddddd"/>
<rect x="287" y="120.8" width="1" height="8.5" fill="#cbcbcb"/>
<rect x="287" y="128.8" width="1" height="5.4" fill="#fff" fill-opacity="0.25"/>
<rect x="288" y="109.7" width="1" height="16.0" fill="#dddddd"/>
<rect x="288" y="117.6" width="1" height="8.6" fill="#cbcbcb"/>
<rect x="288" y="125.7" width="1" height="3.1" fill="#fff" fill-opacity="0.25"/>
<rect x="289" y="91.2" width="1" height="31.5" fill="#dddddd"/>
<rect x="289" y="115.6" width="1" height="7.5" fill="#cbcbcb"/>
<rect x="289" y="122.7" width="1" height="5.3" fill="#fff" fill-opacity="0.25"/>
<rect x="290" y="90.0" width="1" height="24.6" fill="#dddddd"/>
<rect x="290" y="111.6" width="1" height="3.6" fill="#cbcbcb"/>
<rect x="290" y="114.7" width="1" height="2.8" fill="#fff" fill-opacity="0.25"/>
<rect x="291" y="87.6" width="1" height="27.1" fill="#dddddd"/>
<rect x="291" y="111.2" width="1" height="4.0" fill="#cbcbcb"/>
<rect x="291" y="114.6" width="1" height="4.9" fill="#fff" fill-opacity="0.25"/>
<rect x="292" y="92.2" width="1" height="21.8" fill="#dddddd"/>
<rect x="292" y="111.8" width="1" height="2.8" fill="#cbcbcb"/>
<rect x="292" y="114.1" width="1" height="5.2" fill="#fff" fill-opacity="0.25"/>
<rect x="293" y="107.2" width="1" height="13.0" fill="#dddddd"/>
<rect x="293" y="113.3" width="1" height="7.4" fill="#cbcbcb"/>
<rect x="293" y="120.2" width="1" height="3.3" fill="#fff" fill-opacity="0.25"/>
<rect x="294" y="100.3" width="1" height="16.8" fill="#dddddd"/>
<rect x="294" y="110.8" width="1" height="6.8" fill="#cbcbcb"/>
<rect x="294" y="117.1" width="1" height="3.2" fill="#fff" fill-opacity="0.25"/>
<rect x="295" y="100.1" width="1" height="15.9" fill="#dddddd"/>
<rect x="295" y="111.7" width="1" height="4.7" fill="#cbcbcb"/>
<rect x="295" y="115.9" width="1" height="4.4" fill="#fff" fill-opacity="0.25"/>
<rect x="296" y="96.9" width="1" height="17.8" fill="#dddddd"/>
<rect x="296" y="111.5" width="1" height="3.7" fill="#cbcbcb"/>
<rect x="296" y="114.7" width="1" height="4.5" fill="#fff" fill-opacity="0.25"/>
<rect x="297" y="92.0" width="1" height="23.1" fill="#dddddd"/>
<rect x="297" y="111.6" width="1" height="3.9" fill="#cbcbcb"/>
<rect x="297" y="115.1" width="1" height="4.2" fill="#fff" fill-opacity="0.25"/>
<rect x="298" y="100.5" width="1" height="19.1" fill="#dddddd"/>
<rect x="298" y="112.7" width="1" height="7.4" fill="#cbcbcb"/>
<rect x="298" y="119.6" width="1" height="3.1" fill="#fff" fill-opacity="0.25"/>
<rect x="299" y="106.0" width="1" height="13.9" fill="#dddddd"/>
<rect x="299" y="113.3" width="1" height="7.1" fill="#cbcbcb"/>
<rect x="299" y="119.9" width="1" height="3.0" fill="#fff" fill-opacity="0.25"/>
<rect x="300" y="112.0" width="1" height="8.8" fill="#dddddd"/>
<rect x="300" y="117.8" width="1" height="3.5" fill="#cbcbcb"/>
<rect x="300" y="120.8" width="1" height="3.5" fill="#fff" fill-opacity="0.25"/>
<rect x="301" y="111.7" width="1" height="9.4" fill="#dddddd"/>
<rect x="301" y="118.2" width="1" height="3.5" fill="#cbcbcb"/>
<rect x="301" y="121.1" width="1" height="5.4" fill="#fff" fill-opacity="0.25"/>
<rect x="302" y="109.5" width="1" height="13.4" fill="#dddddd"/>
<rect x="302" y="115.3" width="1" height="8.2" fill="#cbcbcb"/>
<rect x="302" y="123.0" width="1" height="4.7" fill="#fff" fill-opacity="0.25"/>
<rect x="303" y="102.5" width="1" height="21.3" fill="#dddddd"/>
<rect x="303" y="117.2" width="1" height="7.2" fill="#cbcbcb"/>
<rect x="303" y="123.9" width="1" height="3.1" fill="#fff" fill-opacity="0.25"/>
<rect x="304" y="104.1" width="1" height="14.2" fill="#dddddd"/>
<rect x="304" y="115.3" width="1" height="3.6" fill="#cbcbcb"/>
<rect x="304" y="118.4" width="1" height="4.6" fill="#fff" fill-opacity="0.25"/>
<rect x="305" y="110.0" width="1" height="13.3" fill="#dddddd"/>
<rect x="305" y="116.6" width="1" height="7.2" fill="#cbcbcb"/>
<rect x="305" y="123.3" width="1" height="4.3" fill="#fff" fill-opacity="0.25"/>
<rect x="306" y="108.6" width="1" height="14.3" fill="#dddddd"/>
<rect x="306" y="116.0" width="1" height="7.4" fill="#cbcbcb"/>
<rect x="306" y="122.9" width="1" height="4.2" fill="#fff" fill-opacity="0.25"/>
<rect x="307" y="98.1" width="1" height="20.2" fill="#dddddd"/>
<rect x="307" y="115.4" width="1" height="3.4" fill="#cbcbcb"/>
<rect x="307" y="118.4" width="1" height="5.1" fill="#fff" fill-opacity="0.25"/>
<rect x="308" y="101.8" width="1" height="19.3" fill="#dddddd"/>
<rect x="308" y="115.5" width="1" height="6.1" fill="#cbcbcb"/>
<rect x="308" y="121.1" width="1" height="4.4" fill="#fff" fill-opacity="0.25"/>
<rect x="309" y="94.5" width="1" height="28.8" fill="#dddddd"/>
<rect x="309" y="116.7" width="1" height="7.1" fill="#cbcbcb"/>
<rect x="309" y="123.3" width="1" height="3.8" fill="#fff" fill-opacity="0.25"/>
<rect x="310" y="106.1" width="1" height="17.6" fill="#dddddd"/>
<rect x="310" y="119.1" width="1" height="5.1" fill="#cbcbcb"/>
<rect x="310" y="123.7" width="1" height="3.8" fill="#fff" fill-opacity="0.25"/>
<rect x="311" y="111.1" width="1" height="13.3" fill="#dddddd"/>
<rect x="311" y="120.4" width="1" height="4.5" fill="#cbcbcb"/>
<rect x="311" y="124.4" width="1" height="5.3" fill="#fff" fill-opacity="0.25"/>
<rect x="312" y="110.0" width="1" height="14.5" fill="#dddddd"/>
<rect x="312" y="121.4" width="1" height="3.6" fill="#cbcbcb"/>
<rect x="312" y="124.5" width="1" height="4.0" fill="#fff" fill-opacity="0.25"/>
<rect x="313" y="94.8" width="1" height="29.9" fill="#dddddd"/>
<rect x="313" y="117.9" width="1" height="7.3" fill="#cbcbcb"/>
<rect x="313" y="124.7" width="1" height="4.8" fill="#fff" fill-opacity="0.25"/>
<rect x="314" y="107.0" width="1" height="16.9" fill="#dddddd"/>
<rect x="314" y="116.3" width="1" height="8.1" fill="#cbcbcb"/>
<rect x="314" y="123.9" width="1" height="4.1" fill="#fff" fill-opacity="0.25"/>
<rect x="316" y="109.1" width="1" height="12.4" fill="#dddddd"/>
<rect x="316" y="115.8" width="1" height="6.1" fill="#cbcbcb"/>
<rect x="316" y="121.4" width="1" height="4.1" fill="#fff" fill-opacity="0.25"/>
<rect x="317" y="112.0" width="1" height="8.0" fill="#dddddd"/>
<rect x="317" y="116.1" width="1" height="4.4" fill="#cbcbcb"/>
<rect x="317" y="120.0" width="1" height="3.7" fill="#fff" fill-opacity="0.25"/>
<rect x="318" y="90.6" width="1" height="31.7" fill="#dddddd"/>
<rect x="318" y="117.8" width="1" height="5.0" fill="#cbcbcb"/>
<rect x="318" y="122.3" width="1" height="2.7" fill="#fff" fill-opacity="0.25"/>
<rect x="319" y="102.6" width="1" height="18.2" fill="#dddddd"/>
<rect x="319" y="116.0" width="1" height="5.3" fill="#cbcbcb"/>
<rect x="319" y="120.8" width="1" height="3.8" fill="#fff" fill-opacity="0.25"/>
<rect x="320" y="97.9" width="1" height="23.0" fill="#dddddd"/>
<rect x="320" y="116.4" width="1" height="5.0" fill="#cbcbcb"/>
<rect x="320" y="120.9" width="1" height="4.7" fill="#fff" fill-opacity="0.25"/>
<rect x="321" y="105.6" width="1" height="12.8" fill="#dddddd"/>
<rect x="321" y="115.3" width="1" height="3.6" fill="#cbcbcb"/>
<rect x="321" y="118.4" width="1" height="3.7" fill="#fff" fill-opacity="0.25"/>
<rect x="322" y="93.7" width="1" height="27.9" fill="#dddddd"/>
<rect x="322" y="115.2" width="1" height="6.8" fill="#cbcbcb"/>
<rect x="322" y="121.6" width="1" height="4.4" fill="#fff" fill-opacity="0.25"/>
<rect x="323" y="107.4" width="1" height="15.3" fill="#dddddd"/>
<rect x="323" y="114.9" width="1" height="8.2" fill="#cbcbcb"/>
<rect x="323" y="122.7" width="1" height="3.6" fill="#fff" fill-opacity="0.25"/>
<rect x="324" y="105.6" width="1" height="20.8" fill="#dddddd"/>
<rect x="324" y="118.9" width="1" height="7.9" fill="#cbcbcb"/>
<rect x="324" y="126.3" width="1" height="3.4" fill="#fff" fill-opacity="0.25"/>
<rect x="325" y="102.5" width="1" height="22.2" fill="#dddddd"/>
<rect x="325" y="118.6" width="1" height="6.6" fill="#cbcbcb"/>
<rect x="325" y="124.7" width="1" height="5.1" fill="#fff" fill-opacity="0.25"/>
<rect x="326" y="114.2" width="1" height="6.6" fill="#dddddd"/>
<rect x="326" y="118.5" width="1" height="2.9" fill="#cbcbcb"/>
<rect x="326" y="120.8" width="1" height="3.1" fill="#fff" fill-opacity="0.25"/>
<rect x="327" y="115.2" width="1" height="9.9" fill="#dddddd"/>
<rect x="327" y="118.8" width="1" height="6.8" fill="#cbcbcb"/>
<rect x="327" y="125.1" width="1" height="3.4" fill="#fff" fill-opacity="0.25"/>
<rect x="328" y="111.4" width="1" height="12.1" fill="#dddddd"/>
<rect x="328" y="117.5" width="1" height="6.4" fill="#cbcbcb"/>
<rect x="328" y="123.4" width="1" height="3.6" fill="#fff" fill-opacity="0.25"/>
<rect x="329" y="110.8" width="1" height="10.1" fill="#dddddd"/>
<rect x="329" y="116.0" width="1" height="5.3" fill="#cbcbcb"/>
<rect x="329" y="120.8" width="1" height="5.2" fill="#fff" fill-opacity="0.25"/>
<rect x="330" y="99.9" width="1" height="20.4" fill="#dddddd"/>
<rect x="330" y="116.4" width="1" height="4.4" fill="#cbcbcb"/>
<rect x="330" y="120.3" width="1" height="2.5" fill="#fff" fill-opacity="0.25"/>
<rect x="331" y="112.0" width="1" height="7.2" fill="#dddddd"/>
<rect x="331" y="117.2" width="1" height="2.5" fill="#cbcbcb"/>
<rect x="331" y="119.2" width="1" height="2.8" fill="#fff" fill-opacity="0.25"/>
<rect x="332" y="95.9" width="1" height="24.3" fill="#dddddd"/>
<rect x="332" y="117.0" width="1" height="3.7" fill="#cbcbcb"/>
<rect x="332" y="120.2" width="1" height="3.0" fill="#fff" fill-opacity="0.25"/>
<rect x="333" y="110.4" width="1" height="12.8" fill="#dddddd"/>
<rect x="333" y="115.9" width="1" height="7.8" fill="#cbcbcb"/>
<rect x="333" y="123.2" width="1" height="4.3" fill="#fff" fill-opacity="0.25"/>
<rect x="334" y="108.7" width="1" height="15.2" fill="#dddddd"/>
<rect x="334" y="116.8" width="1" height="7.5" fill="#cbcbcb"/>
<rect x="334" y="123.9" width="1" height="5.0" fill="#fff" fill-opacity="0.25"/>
<rect x="335" y="112.5" width="1" height="8.3" fill="#dddddd"/>
<rect x="335" y="116.9" width="1" height="4.4" fill="#cbcbcb"/>
<rect x="335" y="120.8" width="1" height="3.8" fill="#fff" fill-opacity="0.25"/>
<rect x="336" y="110.3" width="1" height="9.6" fill="#dddddd"/>
<rect x="336" y="117.4" width="1" height="3.0" fill="#cbcbcb"/>
<rect x="336" y="119.9" width="1" height="2.9" fill="#fff" fill-opacity="0.25"/>
<rect x="337" y="102.9" width="1" height="19.2" fill="#dddddd"/>
<rect x="337" y="116.3" width="1" height="6.3" fill="#cbcbcb"/>
<rect x="337" y="122.0" width="1" height="4.0" fill="#fff" fill-opacity="0.25"/>
<rect x="338" y="107.8" width="1" height="11.6" fill="#dddddd"/>
<rect x="338" y="116.2" width="1" height="3.7" fill="#cbcbcb"/>
<rect x="338" y="119.4" width="1" height="5.0" fill="#fff" fill-opacity="0.25"/>
<rect x="339" y="106.4" width="1" height="11.7" fill="#dddddd"/>
<rect x="339" y="112.2" width="1" height="6.3" fill="#cbcbcb"/>
<rect x="339" y="118.1" width="1" height="3.6" fill="#fff" fill-opacity="0.25"/>
<rect x="340" y="108.9" width="1" height="8.8" fill="#dddddd"/>
<rect x="340" y="112.6" width="1" height="5.6" fill="#cbcbcb"/>
<rect x="340" y="117.8" width="1" height="4.4" fill="#fff" fill-opacity="0.25"/>
<rect x="341" y="108.1" width="1" height="7.3" fill="#dddddd"/>
<rect x="341" y="112.1" width="1" height="3.9" fill="#cbcbcb"/>
<rect x="341" y="115.4" width="1" height="3.5" fill="#fff" fill-opacity="0.25"/>
<rect x="342" y="105.1" width="1" height="10.9" fill="#dddddd"/>
<rect x="342" y="112.1" width="1" height="4.3" fill="#cbcbcb"/>
<rect x="342" y="115.9" width="1" height="2.6" fill="#fff" fill-opacity="0.25"/>
<rect x="344" y="107.2" width="1" height="12.5" fill="#dddddd"/>
<rect x="344" y="112.7" width="1" height="7.5" fill="#cbcbcb"/>
<rect x="344" y="119.7" width="1" height="3.6" fill="#fff" fill-opacity="0.25"/>
<rect x="345" y="108.3" width="1" height="9.5" fill="#dddddd"/>
<rect x="345" y="115.8" width="1" height="2.4" fill="#cbcbcb"/>
<rect x="345" y="117.8" width="1" height="3.8" fill="#fff" fill-opacity="0.25"/>
<rect x="346" y="108.3" width="1" height="13.2" fill="#dddddd"/>
<rect x="346" y="115.7" width="1" height="6.3" fill="#cbcbcb"/>
<rect x="346" y="121.4" width="1" height="5.0" fill="#fff" fill-opacity="0.25"/>
<rect x="347" y="110.6" width="1" height="11.8" fill="#dddddd"/>
<rect x="347" y="115.2" width="1" height="7.6" fill="#cbcbcb"/>
<rect x="347" y="122.4" width="1" height="5.4" fill="#fff" fill-opacity="0.25"/>
<rect x="348" y="115.3" width="1" height="13.4" fill="#dddddd"/>
<rect x="348" y="121.7" width="1" height="7.6" fill="#cbcbcb"/>
<rect x="348" y="128.8" width="1" height="3.4" fill="#fff" fill-opacity="0.25"/>
<rect x="349" y="110.2" width="1" height="14.9" fill="#dddddd"/>
<rect x="349" y="118.6" width="1" height="7.0" fill="#cbcbcb"/>
<rect x="349" y="125.1" width="1" height="4.7" fill="#fff" fill-opacity="0.25"/>
<rect x="350" y="110.7" width="1" height="12.6" fill="#dddddd"/>
<rect x="350" y="116.8" width="1" height="6.9" fill="#cbcbcb"/>
<rect x="350" y="123.3" width="1" height="2.5" fill="#fff" fill-opacity="0.25"/>
<rect x="351" y="111.2" width="1" height="9.0" fill="#dddddd"/>
<rect x="351" y="116.1" width="1" height="4.6" fill="#cbcbcb"/>
<rect x="351" y="120.2" width="1" height="4.9" fill="#fff" fill-opacity="0.25"/>
<rect x="352" y="108.3" width="1" height="10.6" fill="#dddddd"/>
<rect x="352" y="116.2" width="1" height="3.3" fill="#cbcbcb"/>
<rect x="352" y="118.9" width="1" height="4.6" fill="#fff" fill-opacity="0.25"/>
<rect x="353" y="111.2" width="1" height="8.4" fill="#dddddd"/>
<rect x="353" y="116.1" width="1" height="4.0" fill="#cbcbcb"/>
<rect x="353" y="119.6" width="1" height="3.9" fill="#fff" fill-opacity="0.25"/>
<rect x="354" y="102.5" width="1" height="19.0" fill="#dddddd"/>
<rect x="354" y="115.0" width="1" height="7.0" fill="#cbcbcb"/>
<rect x="354" y="121.5" width="1" height="4.8" fill="#fff" fill-opacity="0.25"/>
<rect x="355" y="110.5" width="1" height="14.6" fill="#dddddd"/>
<rect x="355" y="117.0" width="1" height="8.6" fill="#cbcbcb"/>
<rect x="355" y="125.1" width="1" height="4.9" fill="#fff" fill-opacity="0.25"/>
<rect x="356" y="107.9" width="1" height="8.6" fill="#dddddd"/>
<rect x="356" y="113.5" width="1" height="3.5" fill="#cbcbcb"/>
<rect x="356" y="116.5" width="1" height="3.5" fill="#fff" fill-opacity="0.25"/>
<rect x="357" y="103.6" width="1" height="12.3" fill="#dddddd"/>
<rect x="357" y="112.0" width="1" height="4.4" fill="#cbcbcb"/>
<rect x="357" y="115.9" width="1" height="4.2" fill="#fff" fill-opacity="0.25"/>
<rect x="358" y="89.2" width="1" height="26.7" fill="#dddddd"/>
<rect x="358" y="110.9" width="1" height="5.5" fill="#cbcbcb"/>
<rect x="358" y="115.9" width="1" height="5.3" fill="#fff" fill-opacity="0.25"/>
<rect x="359" y="92.6" width="1" height="20.9" fill="#dddddd"/>
<rect x="359" y="110.9" width="1" height="3.2" fill="#cbcbcb"/>
<rect x="359" y="113.6" width="1" height="5.3" fill="#fff" fill-opacity="0.25"/>
<rect x="360" y="97.3" width="1" height="16.8" fill="#dddddd"/>
<rect x="360" y="109.9" width="1" height="4.7" fill="#cbcbcb"/>
<rect x="360" y="114.1" width="1" height="4.4" fill="#fff" fill-opacity="0.25"/>
<rect x="361" y="97.2" width="1" height="20.5" fill="#dddddd"/>
<rect x="361" y="111.2" width="1" height="7.0" fill="#cbcbcb"/>
<rect x="361" y="117.8" width="1" height="4.6" fill="#fff" fill-opacity="0.25"/>
<rect x="362" y="98.0" width="1" height="13.6" fill="#dddddd"/>
<rect x="362" y="103.4" width="1" height="8.7" fill="#cbcbcb"/>
<rect x="362" y="111.6" width="1" height="2.9" fill="#fff" fill-opacity="0.25"/>
<rect x="363" y="90.1" width="1" height="9.3" fill="#dddddd"/>
<rect x="363" y="96.4" width="1" height="3.5" fill="#cbcbcb"/>
<rect x="363" y="99.4" width="1" height="3.1" fill="#fff" fill-opacity="0.25"/>
<rect x="364" y="86.7" width="1" height="13.9" fill="#dddddd"/>
<rect x="364" y="96.1" width="1" height="4.9" fill="#cbcbcb"/>
<rect x="364" y="100.6" width="1" height="4.7" fill="#fff" fill-opacity="0.25"/>
<rect x="365" y="92.6" width="1" height="17.8" fill="#dddddd"/>
<rect x="365" y="103.0" width="1" height="7.9" fill="#cbcbcb"/>
<rect x="365" y="110.4" width="1" height="5.3" fill="#fff" fill-opacity="0.25"/>
<rect x="366" y="99.8" width="1" height="18.5" fill="#dddddd"/>
<rect x="366" y="111.8" width="1" height="7.0" fill="#cbcbcb"/>
<rect x="366" y="118.4" width="1" height="2.5" fill="#fff" fill-opacity="0.25"/>
<rect x="367" y="108.4" width="1" height="12.4" fill="#dddddd"/>
<rect x="367" y="113.7" width="1" height="7.6" fill="#cbcbcb"/>
<rect x="367" y="120.8" width="1" height="4.7" fill="#fff" fill-opacity="0.25"/>
<rect x="368" y="114.2" width="1" height="12.1" fill="#dddddd"/>
<rect x="368" y="119.7" width="1" height="7.1" fill="#cbcbcb"/>
<rect x="368" y="126.3" width="1" height="3.6" fill="#fff" fill-opacity="0.25"/>
<rect x="369" y="111.3" width="1" height="12.0" fill="#dddddd"/>
<rect x="369" y="119.0" width="1" height="4.7" fill="#cbcbcb"/>
<rect x="369" y="123.3" width="1" height="4.9" fill="#fff" fill-opacity="0.25"/>
<rect x="370" y="114.8" width="1" height="10.7" fill="#dddddd"/>
<rect x="370" y="120.9" width="1" height="5.1" fill="#cbcbcb"/>
<rect x="370" y="125.5" width="1" height="3.7" fill="#fff" fill-opacity="0.25"/>
<rect x="371" y="112.5" width="1" height="13.5" fill="#dddddd"/>
<rect x="371" y="120.6" width="1" height="5.8" fill="#cbcbcb"/>
<rect x="371" y="126.0" width="1" height="3.4" fill="#fff" fill-opacity="0.25"/>
<rect x="372" y="116.7" width="1" height="9.7" fill="#dddddd"/>
<rect x="372" y="121.1" width="1" height="5.8" fill="#cbcbcb"/>
<rect x="372" y="126.3" width="1" height="3.5" fill="#fff" fill-opacity="0.25"/>
<rect x="373" y="110.9" width="1" height="13.3" fill="#dddddd"/>
<rect x="373" y="118.4" width="1" height="6.3" fill="#cbcbcb"/>
<rect x="373" y="124.2" width="1" height="3.4" fill="#fff" fill-opacity="0.25"/>
<rect x="374" y="111.9" width="1" height="12.6" fill="#dddddd"/>
<rect x="374" y="116.7" width="1" height="8.3" fill="#cbcbcb"/>
<rect x="374" y="124.5" width="1" height="4.3" fill="#fff" fill-opacity="0.25"/>
<rect x="375" y="110.4" width="1" height="10.8" fill="#dddddd"/>
<rect x="375" y="118.1" width="1" height="3.6" fill="#cbcbcb"/>
<rect x="375" y="121.1" width="1" height="3.3" fill="#fff" fill-opacity="0.25"/>
<rect x="377" y="110.1" width="1" height="10.1" fill="#dddddd"/>
<rect x="377" y="116.3" width="1" height="4.5" fill="#cbcbcb"/>
<rect x="377" y="120.3" width="1" height="2.6" fill="#fff" fill-opacity="0.25"/>
<rect x="378" y="108.3" width="1" height="13.8" fill="#dddddd"/>
<rect x="378" y="116.9" width="1" height="5.6" fill="#cbcbcb"/>
<rect x="378" y="122.0" width="1" height="3.3" fill="#fff" fill-opacity="0.25"/>
<rect x="379" y="109.6" width="1" height="12.3" fill="#dddddd"/>
<rect x="379" y="116.9" width="1" height="5.5" fill="#cbcbcb"/>
<rect x="379" y="121.9" width="1" height="3.5" fill="#fff" fill-opacity="0.25"/>
<rect x="380" y="113.6" width="1" height="8.0" fill="#dddddd"/>
<rect x="380" y="119.7" width="1" height="2.4" fill="#cbcbcb"/>
<rect x="380" y="121.6" width="1" height="4.8" fill="#fff" fill-opacity="0.25"/>
<rect x="381" y="95.7" width="1" height="27.5" fill="#dddddd"/>
<rect x="381" y="118.0" width="1" height="5.8" fill="#cbcbcb"/>
<rect x="381" y="123.3" width="1" height="3.9" fill="#fff" fill-opacity="0.25"/>
<rect x="382" y="112.5" width="1" height="11.0" fill="#dddddd"/>
<rect x="382" y="117.7" width="1" height="6.3" fill="#cbcbcb"/>
<rect x="382" y="123.5" width="1" height="3.9" fill="#fff" fill-opacity="0.25"/>
<rect x="383" y="112.9" width="1" height="7.9" fill="#dddddd"/>
<rect x="383" y="118.9" width="1" height="2.5" fill="#cbcbcb"/>
<rect x="383" y="120.8" width="1" height="4.2" fill="#fff" fill-opacity="0.25"/>
<rect x="384" y="106.1" width="1" height="17.5" fill="#dddddd"/>
<rect x="384" y="118.4" width="1" height="5.7" fill="#cbcbcb"/>
<rect x="384" y="123.6" width="1" height="4.3" fill="#fff" fill-opacity="0.25"/>
<rect x="385" y="102.2" width="1" height="21.7" fill="#dddddd"/>
<rect x="385" y="116.7" width="1" height="7.7" fill="#cbcbcb"/>
<rect x="385" y="123.9" width="1" height="3.6" fill="#fff" fill-opacity="0.25"/>
<rect x="386" y="95.2" width="1" height="26.4" fill="#dddddd"/>
<rect x="386" y="116.4" width="1" height="5.7" fill="#cbcbcb"/>
<rect x="386" y="121.6" width="1" height="2.6" fill="#fff" fill-opacity="0.25"/>
<rect x="387" y="96.8" width="1" height="22.8" fill="#dddddd"/>
<rect x="387" y="113.8" width="1" height="6.3" fill="#cbcbcb"/>
<rect x="387" y="119.6" width="1" height="4.9" fill="#fff" fill-opacity="0.25"/>
<rect x="388" y="104.3" width="1" height="13.9" fill="#dddddd"/>
<rect x="388" y="112.3" width="1" height="6.4" fill="#cbcbcb"/>
<rect x="388" y="118.2" width="1" height="2.6" fill="#fff" fill-opacity="0.25"/>
<rect x="389" y="100.4" width="1" height="16.1" fill="#dddddd"/>
<rect x="389" y="111.6" width="1" height="5.4" fill="#cbcbcb"/>
<rect x="389" y="116.5" width="1" height="4.2" fill="#fff" fill-opacity="0.25"/>
<rect x="390" y="102.6" width="1" height="12.2" fill="#dddddd"/>
<rect x="390" y="110.7" width="1" height="4.6" fill="#cbcbcb"/>
<rect x="390" y="114.8" width="1" height="4.8" fill="#fff" fill-opacity="0.25"/>
<rect x="391" y="101.5" width="1" height="12.6" fill="#dddddd"/>
<rect x="391" y="112.5" width="1" height="2.1" fill="#cbcbcb"/>
<rect x="391" y="114.1" width="1" height="3.1" fill="#fff" fill-opacity="0.25"/>
<rect x="392" y="98.3" width="1" height="16.4" fill="#dddddd"/>
<rect x="392" y="111.5" width="1" height="3.7" fill="#cbcbcb"/>
<rect x="392" y="114.7" width="1" height="5.1" fill="#fff" fill-opacity="0.25"/>
<rect x="393" y="98.4" width="1" height="18.2" fill="#dddddd"/>
<rect x="393" y="112.5" width="1" height="4.6" fill="#cbcbcb"/>
<rect x="393" y="116.6" width="1" height="4.3" fill="#fff" fill-opacity="0.25"/>
<rect x="394" y="87.1" width="1" height="31.3" fill="#dddddd"/>
<rect x="394" y="112.7" width="1" height="6.2" fill="#cbcbcb"/>
<rect x="394" y="118.4" width="1" height="4.2" fill="#fff" fill-opacity="0.25"/>
<rect x="395" y="100.7" width="1" height="19.8" fill="#dddddd"/>
<rect x="395" y="113.2" width="1" height="7.8" fill="#cbcbcb"/>
<rect x="395" y="120.5" width="1" height="3.8" fill="#fff" fill-opacity="0.25"/>
<rect x="396" y="97.4" width="1" height="20.1" fill="#dddddd"/>
<rect x="396" y="110.6" width="1" height="7.4" fill="#cbcbcb"/>
<rect x="396" y="117.5" width="1" height="2.6" fill="#fff" fill-opacity="0.25"/>
<rect x="397" y="84.3" width="1" height="26.4" fill="#dddddd"/>
<rect x="397" y="107.4" width="1" height="3.8" fill="#cbcbcb"/>
<rect x="397" y="110.7" width="1" height="5.0" fill="#fff" fill-opacity="0.25"/>
</g>
<polyline points="438.5,101.7 439.5,103.4 440.5,104.0 441.5,83.8 442.5,84.3 443.5,102.3 444.5,102.9 445.5,99.5 446.5,107.9 447.5,84.3 448.5,78.7 449.5,84.9 450.5,101.2 451.5,104.6 452.5,106.6 453.5,107.9 454.5,99.5 455.5,93.9 456.5,106.8 457.5,114.7 458.5,112.5 459.5,110.7 460.5,104.0 461.5,96.1 462.5,96.7 463.5,97.8 464.5,98.2 465.5,98.9 466.5,99.7 467.5,102.3 468.5,102.1 469.5,101.7 470.5,100.6 471.5,96.7 472.5,101.1 473.5,106.8 474.5,114.7 475.5,113.0 476.5,109.0 477.5,85.5 478.5,82.1 479.5,82.9 480.5,83.8 481.5,94.5 482.5,98.9 483.5,110.7" fill="none" stroke="#000" stroke-opacity="0.07" stroke-width="4.5" stroke-linejoin="round"/>
<polyline points="438.5,101.7 439.5,103.4 440.5,104.0 441.5,83.8 442.5,84.3 443.5,102.3 444.5,102.9 445.5,99.5 446.5,107.9 447.5,84.3 448.5,78.7 449.5,84.9 450.5,101.2 451.5,104.6 452.5,106.6 453.5,107.9 454.5,99.5 455.5,93.9 456.5,106.8 457.5,114.7 458.5,112.5 459.5,110.7 460.5,104.0 461.5,96.1 462.5,96.7 463.5,97.8 464.5,98.2 465.5,98.9 466.5,99.7 467.5,102.3 468.5,102.1 469.5,101.7 470.5,100.6 471.5,96.7 472.5,101.1 473.5,106.8 474.5,114.7 475.5,113.0 476.5,109.0 477.5,85.5 478.5,82.1 479.5,82.9 480.5,83.8 481.5,94.5 482.5,98.9 483.5,110.7" fill="none" stroke="#000" stroke-opacity="0.13" stroke-width="2.4" stroke-linejoin="round"/>
<rect x="442" y="77" width="1.6" height="6" fill="url(#sg)"/>
<rect x="448" y="72.5" width="1.6" height="6" fill="url(#sg)"/>
<rect x="455" y="88" width="1.6" height="6" fill="url(#sg)"/>
<rect x="461" y="90" width="1.6" height="6" fill="url(#sg)"/>
<rect x="471" y="90.5" width="1.6" height="6" fill="url(#sg)"/>
<rect x="478" y="76" width="1.6" height="6" fill="url(#sg)"/>
<rect x="479" y="76" width="1.6" height="6" fill="url(#sg)"/>
<polyline points="67.5,125.1 68.5,131.2 69.5,126.9 70.5,122.7 71.5,122.3 72.5,123.9 73.5,132.0 74.5,136.1 75.5,138.0 76.5,135.7 77.5,134.9 78.5,133.8 79.5,131.2 80.5,125.7 81.5,125.2 82.5,124.0 83.5,125.1 84.5,125.2 85.5,123.9 86.5,125.4 87.5,126.4 88.5,127.6 89.5,133.1 90.5,128.8 91.5,126.8 92.5,127.6 93.5,130.0 94.5,127.2 95.5,125.7 96.5,128.8 97.5,133.7 98.5,133.2 99.5,133.1 100.5,133.9 101.5,132.5 102.5,129.2 103.5,126.9 104.5,126.4 105.5,127.6 106.5,132.5 107.5,133.9 108.5,134.3 109.5,131.9 110.5,132.8 111.5,131.2 112.5,130.6 113.5,127.4 114.5,125.1 115.5,128.8 116.5,131.4 117.5,132.5 118.5,130.9 119.5,131.9 120.5,126.3 121.5,127.1 122.5,125.7 123.5,131.2 124.5,129.1 125.5,127.6 126.5,110.4 127.5,106.8 128.5,104.9 129.5,128.8 130.5,104.3 131.5,101.8 132.5,100.0 133.5,104.3 134.5,121.4 135.5,121.9 136.5,124.5 137.5,128.2 138.5,131.2 139.5,130.7 140.5,131.9 141.5,130.1 142.5,128.8 143.5,127.0 144.5,124.5 145.5,124.1 146.5,126.0 147.5,130.0 148.5,125.1 149.5,122.7 150.5,128.2 151.5,126.2 152.5,126.9 153.5,124.0 154.5,122.4 155.5,121.9 156.5,119.6 157.5,120.9 158.5,122.0 159.5,124.5 160.5,126.3 161.5,123.9 162.5,125.8 163.5,126.3 164.5,120.8 165.5,123.1 166.5,128.8 167.5,128.9 168.5,130.6 169.5,130.1 170.5,128.2 171.5,125.7 172.5,125.1 173.5,126.3 174.5,126.3 175.5,126.3 176.5,128.2 177.5,127.1 178.5,122.0 179.5,122.3 180.5,120.5 181.5,120.8 182.5,117.8 183.5,121.1 184.5,124.5 185.5,122.3 186.5,121.7 187.5,120.8 188.5,119.9 189.5,118.4 190.5,118.4 191.5,120.3 192.5,120.8 193.5,117.8 194.5,118.5 195.5,117.1 196.5,119.8 197.5,120.8 198.5,121.2 199.5,122.4 200.5,121.4 201.5,120.2 202.5,120.8 203.5,119.6 204.5,120.8 205.5,122.0 206.5,121.2 207.5,119.6 208.5,118.7 209.5,104.3 210.5,106.7 211.5,122.7 212.5,122.2 213.5,120.9 214.5,118.4 215.5,119.5 216.5,120.8 217.5,122.9 218.5,124.5 219.5,122.2 220.5,122.0 221.5,122.5 222.5,122.1 223.5,121.4 224.5,125.3 225.5,126.9 226.5,126.1 227.5,121.4 228.5,118.4 229.5,101.2 230.5,102.4 231.5,110.4 232.5,112.2 233.5,116.2 234.5,122.0 235.5,125.7 236.5,121.8 237.5,115.3 238.5,117.0 239.5,118.4 240.5,116.5 241.5,117.0 242.5,115.4 243.5,115.9 244.5,118.4 245.5,126.3 246.5,124.7 247.5,125.1 248.5,121.3 249.5,116.5 250.5,119.2 251.5,121.4 252.5,123.2 253.5,127.6 254.5,124.0 255.5,120.8 256.5,120.1 257.5,120.9 258.5,117.9 259.5,118.4 260.5,117.9 261.5,117.8 262.5,117.1 263.5,123.9 264.5,124.4 265.5,123.2 266.5,121.4 267.5,124.5 268.5,127.2 269.5,127.2 270.5,128.8 271.5,128.9 272.5,129.4 273.5,126.7 274.5,123.9 275.5,123.9 276.5,122.1 277.5,119.6 278.5,126.9 279.5,127.4 280.5,129.3 281.5,131.2 282.5,130.4 283.5,131.2 284.5,114.1 285.5,115.4 286.5,117.8 287.5,128.8 288.5,125.7 289.5,122.7 290.5,114.7 291.5,114.6 292.5,114.1 293.5,120.2 294.5,117.1 295.5,115.9 296.5,114.7 297.5,115.1 298.5,119.6 299.5,119.9 300.5,120.8 301.5,121.1 302.5,123.0 303.5,123.9 304.5,118.4 305.5,123.3 306.5,122.9 307.5,118.4 308.5,121.1 309.5,123.3 310.5,123.7 311.5,124.4 312.5,124.5 313.5,124.7 314.5,123.9 315.5,119.0 316.5,121.4 317.5,120.0 318.5,122.3 319.5,120.8 320.5,120.9 321.5,118.4 322.5,121.6 323.5,122.7 324.5,126.3 325.5,124.7 326.5,120.8 327.5,125.1 328.5,123.4 329.5,120.8 330.5,120.3 331.5,119.2 332.5,120.2 333.5,123.2 334.5,123.9 335.5,120.8 336.5,119.9 337.5,122.0 338.5,119.4 339.5,118.1 340.5,117.8 341.5,115.4 342.5,115.9 343.5,123.9 344.5,119.7 345.5,117.8 346.5,121.4 347.5,122.4 348.5,128.8 349.5,125.1 350.5,123.3 351.5,120.2 352.5,118.9 353.5,119.6 354.5,121.5 355.5,125.1 356.5,116.5 357.5,115.9 358.5,115.9 359.5,113.6 360.5,114.1 361.5,117.8 362.5,111.6 363.5,99.4 364.5,100.6 365.5,110.4 366.5,118.4 367.5,120.8 368.5,126.3 369.5,123.3 370.5,125.5 371.5,126.0 372.5,126.3 373.5,124.2 374.5,124.5 375.5,121.1 376.5,119.6 377.5,120.3 378.5,122.0 379.5,121.9 380.5,121.6 381.5,123.3 382.5,123.5 383.5,120.8 384.5,123.6 385.5,123.9 386.5,121.6 387.5,119.6 388.5,118.2 389.5,116.5 390.5,114.8 391.5,114.1 392.5,114.7 393.5,116.6 394.5,118.4 395.5,120.5 396.5,117.5 397.5,110.7 398.5,111.5 399.5,112.6 400.5,112.6 401.5,109.8 402.5,109.6" fill="none" stroke="#050505" stroke-width="1.25" stroke-linejoin="round"/>
<polyline points="438.5,101.7 439.5,103.4 440.5,104.0 441.5,83.8 442.5,84.3 443.5,102.3 444.5,102.9 445.5,99.5 446.5,107.9 447.5,84.3 448.5,78.7 449.5,84.9 450.5,101.2 451.5,104.6 452.5,106.6 453.5,107.9 454.5,99.5 455.5,93.9 456.5,106.8 457.5,114.7 458.5,112.5 459.5,110.7 460.5,104.0 461.5,96.1 462.5,96.7 463.5,97.8 464.5,98.2 465.5,98.9 466.5,99.7 467.5,102.3 468.5,102.1 469.5,101.7 470.5,100.6 471.5,96.7 472.5,101.1 473.5,106.8 474.5,114.7 475.5,113.0 476.5,109.0 477.5,85.5 478.5,82.1 479.5,82.9 480.5,83.8 481.5,94.5 482.5,98.9 483.5,110.7" fill="none" stroke="#050505" stroke-width="1.0" stroke-linejoin="round"/>
<g>
<rect x="67" y="124.6" width="1" height="2.0" fill="#00b8ff"/>
<rect x="68" y="130.7" width="1" height="2.0" fill="#26ff00"/>
<rect x="69" y="126.4" width="1" height="2.0" fill="#00b8ff"/>
<rect x="70" y="122.2" width="1" height="2.0" fill="#00b8ff"/>
<rect x="71" y="121.8" width="1" height="2.0" fill="#00b8ff"/>
<rect x="72" y="123.4" width="1" height="2.0" fill="#00b8ff"/>
<rect x="73" y="131.5" width="1" height="2.0" fill="#00b8ff"/>
<rect x="74" y="135.6" width="1" height="2.0" fill="#00b8ff"/>
<rect x="75" y="137.5" width="1" height="2.0" fill="#00b8ff"/>
<rect x="76" y="135.2" width="1" height="2.0" fill="#00b8ff"/>
<rect x="77" y="134.4" width="1" height="2.0" fill="#00b8ff"/>
<rect x="78" y="133.3" width="1" height="2.0" fill="#00b8ff"/>
<rect x="79" y="130.7" width="1" height="2.0" fill="#00b8ff"/>
<rect x="80" y="125.2" width="1" height="2.0" fill="#00b8ff"/>
<rect x="81" y="124.7" width="1" height="2.0" fill="#00b8ff"/>
<rect x="82" y="123.5" width="1" height="2.0" fill="#00b8ff"/>
<rect x="83" y="124.6" width="1" height="2.0" fill="#00b8ff"/>
<rect x="84" y="124.7" width="1" height="2.0" fill="#00b8ff"/>
<rect x="85" y="123.4" width="1" height="2.0" fill="#00b8ff"/>
<rect x="86" y="124.9" width="1" height="2.0" fill="#00b8ff"/>
<rect x="87" y="125.9" width="1" height="2.0" fill="#00b8ff"/>
<rect x="88" y="127.1" width="1" height="2.0" fill="#00b8ff"/>
<rect x="89" y="132.6" width="1" height="2.0" fill="#26ff00"/>
<rect x="90" y="128.3" width="1" height="2.0" fill="#00b8ff"/>
<rect x="91" y="126.3" width="1" height="2.0" fill="#00b8ff"/>
<rect x="92" y="127.1" width="1" height="2.0" fill="#00b8ff"/>
<rect x="93" y="129.5" width="1" height="2.0" fill="#00b8ff"/>
<rect x="94" y="126.7" width="1" height="2.0" fill="#00b8ff"/>
<rect x="95" y="125.2" width="1" height="2.0" fill="#00b8ff"/>
<rect x="96" y="128.3" width="1" height="2.0" fill="#00b8ff"/>
<rect x="97" y="133.2" width="1" height="2.0" fill="#00b8ff"/>
<rect x="98" y="132.7" width="1" height="2.0" fill="#00b8ff"/>
<rect x="99" y="132.6" width="1" height="2.0" fill="#00b8ff"/>
<rect x="100" y="133.4" width="1" height="2.0" fill="#00b8ff"/>
<rect x="101" y="132.0" width="1" height="2.0" fill="#00b8ff"/>
<rect x="102" y="128.7" width="1" height="2.0" fill="#00b8ff"/>
<rect x="103" y="126.4" width="1" height="2.0" fill="#00b8ff"/>
<rect x="104" y="125.9" width="1" height="2.0" fill="#00b8ff"/>
<rect x="105" y="127.1" width="1" height="2.0" fill="#00b8ff"/>
<rect x="106" y="132.0" width="1" height="2.0" fill="#00b8ff"/>
<rect x="107" y="133.4" width="1" height="2.0" fill="#00b8ff"/>
<rect x="108" y="133.8" width="1" height="2.0" fill="#00b8ff"/>
<rect x="109" y="131.4" width="1" height="2.0" fill="#00b8ff"/>
<rect x="110" y="132.3" width="1" height="2.0" fill="#00b8ff"/>
<rect x="111" y="130.7" width="1" height="2.0" fill="#00b8ff"/>
<rect x="112" y="130.1" width="1" height="2.0" fill="#00b8ff"/>
<rect x="113" y="126.9" width="1" height="2.0" fill="#00b8ff"/>
<rect x="114" y="124.6" width="1" height="2.0" fill="#00b8ff"/>
<rect x="115" y="128.3" width="1" height="2.0" fill="#00b8ff"/>
<rect x="116" y="130.9" width="1" height="2.0" fill="#00b8ff"/>
<rect x="117" y="132.0" width="1" height="2.0" fill="#00b8ff"/>
<rect x="118" y="130.4" width="1" height="2.0" fill="#00b8ff"/>
<rect x="119" y="131.4" width="1" height="2.0" fill="#00b8ff"/>
<rect x="120" y="125.8" width="1" height="2.0" fill="#00b8ff"/>
<rect x="121" y="126.6" width="1" height="2.0" fill="#00b8ff"/>
<rect x="122" y="125.2" width="1" height="2.0" fill="#00b8ff"/>
<rect x="123" y="130.7" width="1" height="2.0" fill="#00b8ff"/>
<rect x="124" y="128.6" width="1" height="2.0" fill="#00b8ff"/>
<rect x="125" y="127.1" width="1" height="2.0" fill="#00b8ff"/>
<rect x="126" y="109.9" width="1" height="2.0" fill="#00b8ff"/>
<rect x="127" y="106.3" width="1" height="2.0" fill="#00b8ff"/>
<rect x="128" y="104.4" width="1" height="2.0" fill="#00b8ff"/>
<rect x="129" y="128.3" width="1" height="2.0" fill="#00b8ff"/>
<rect x="130" y="103.8" width="1" height="2.0" fill="#00b8ff"/>
<rect x="131" y="101.3" width="1" height="2.0" fill="#00b8ff"/>
<rect x="132" y="99.5" width="1" height="2.0" fill="#00b8ff"/>
<rect x="133" y="103.8" width="1" height="2.0" fill="#00b8ff"/>
<rect x="134" y="120.9" width="1" height="2.0" fill="#00b8ff"/>
<rect x="135" y="121.4" width="1" height="2.0" fill="#00b8ff"/>
<rect x="136" y="124.0" width="1" height="2.0" fill="#00b8ff"/>
<rect x="137" y="127.7" width="1" height="2.0" fill="#00b8ff"/>
<rect x="138" y="130.7" width="1" height="2.0" fill="#00b8ff"/>
<rect x="139" y="130.2" width="1" height="2.0" fill="#00b8ff"/>
<rect x="140" y="131.4" width="1" height="2.0" fill="#00b8ff"/>
<rect x="141" y="129.6" width="1" height="2.0" fill="#00b8ff"/>
<rect x="142" y="128.3" width="1" height="2.0" fill="#00b8ff"/>
<rect x="143" y="126.5" width="1" height="2.0" fill="#00b8ff"/>
<rect x="144" y="124.0" width="1" height="2.0" fill="#00b8ff"/>
<rect x="145" y="123.6" width="1" height="2.0" fill="#00b8ff"/>
<rect x="146" y="125.5" width="1" height="2.0" fill="#00b8ff"/>
<rect x="147" y="129.5" width="1" height="2.0" fill="#26ff00"/>
<rect x="148" y="124.6" width="1" height="2.0" fill="#00b8ff"/>
<rect x="149" y="122.2" width="1" height="2.0" fill="#00b8ff"/>
<rect x="150" y="127.7" width="1" height="2.0" fill="#00b8ff"/>
<rect x="151" y="125.7" width="1" height="2.0" fill="#26ff00"/>
<rect x="152" y="126.4" width="1" height="2.0" fill="#00b8ff"/>
<rect x="153" y="123.5" width="1" height="2.0" fill="#00b8ff"/>
<rect x="154" y="121.9" width="1" height="2.0" fill="#00b8ff"/>
<rect x="155" y="121.4" width="1" height="2.0" fill="#00b8ff"/>
<rect x="156" y="119.1" width="1" height="2.0" fill="#00b8ff"/>
<rect x="157" y="120.4" width="1" height="2.0" fill="#00b8ff"/>
<rect x="158" y="121.5" width="1" height="2.0" fill="#00b8ff"/>
<rect x="159" y="124.0" width="1" height="2.0" fill="#00b8ff"/>
<rect x="160" y="125.8" width="1" height="2.0" fill="#00b8ff"/>
<rect x="161" y="123.4" width="1" height="2.0" fill="#00b8ff"/>
<rect x="162" y="125.3" width="1" height="2.0" fill="#00b8ff"/>
<rect x="163" y="125.8" width="1" height="2.0" fill="#00b8ff"/>
<rect x="164" y="120.3" width="1" height="2.0" fill="#00b8ff"/>
<rect x="165" y="122.6" width="1" height="2.0" fill="#00b8ff"/>
<rect x="166" y="128.3" width="1" height="2.0" fill="#00b8ff"/>
<rect x="167" y="128.4" width="1" height="2.0" fill="#00b8ff"/>
<rect x="168" y="130.1" width="1" height="2.0" fill="#00b8ff"/>
<rect x="169" y="129.6" width="1" height="2.0" fill="#00b8ff"/>
<rect x="170" y="127.7" width="1" height="2.0" fill="#00b8ff"/>
<rect x="171" y="125.2" width="1" height="2.0" fill="#00b8ff"/>
<rect x="172" y="124.6" width="1" height="2.0" fill="#00b8ff"/>
<rect x="173" y="125.8" width="1" height="2.0" fill="#00b8ff"/>
<rect x="174" y="125.8" width="1" height="2.0" fill="#00b8ff"/>
<rect x="175" y="125.8" width="1" height="2.0" fill="#26ff00"/>
<rect x="176" y="127.7" width="1" height="2.0" fill="#00b8ff"/>
<rect x="177" y="126.6" width="1" height="2.0" fill="#00b8ff"/>
<rect x="178" y="121.5" width="1" height="2.0" fill="#00b8ff"/>
<rect x="179" y="121.8" width="1" height="2.0" fill="#00b8ff"/>
<rect x="180" y="120.0" width="1" height="2.0" fill="#00b8ff"/>
<rect x="181" y="120.3" width="1" height="2.0" fill="#00b8ff"/>
<rect x="182" y="117.3" width="1" height="2.0" fill="#00b8ff"/>
<rect x="183" y="120.6" width="1" height="2.0" fill="#00b8ff"/>
<rect x="184" y="124.0" width="1" height="2.0" fill="#00b8ff"/>
<rect x="185" y="121.8" width="1" height="2.0" fill="#26ff00"/>
<rect x="186" y="121.2" width="1" height="2.0" fill="#00b8ff"/>
<rect x="187" y="120.3" width="1" height="2.0" fill="#00b8ff"/>
<rect x="188" y="119.4" width="1" height="2.0" fill="#00b8ff"/>
<rect x="189" y="117.9" width="1" height="2.0" fill="#00b8ff"/>
<rect x="190" y="117.9" width="1" height="2.0" fill="#00b8ff"/>
<rect x="191" y="119.8" width="1" height="2.0" fill="#00b8ff"/>
<rect x="192" y="120.3" width="1" height="2.0" fill="#00b8ff"/>
<rect x="193" y="117.3" width="1" height="2.0" fill="#00b8ff"/>
<rect x="194" y="118.0" width="1" height="2.0" fill="#00b8ff"/>
<rect x="195" y="116.6" width="1" height="2.0" fill="#00b8ff"/>
<rect x="196" y="119.3" width="1" height="2.0" fill="#26ff00"/>
<rect x="197" y="120.3" width="1" height="2.0" fill="#00b8ff"/>
<rect x="198" y="120.7" width="1" height="2.0" fill="#00b8ff"/>
<rect x="199" y="121.9" width="1" height="2.0" fill="#26ff00"/>
<rect x="200" y="120.9" width="1" height="2.0" fill="#00b8ff"/>
<rect x="201" y="119.7" width="1" height="2.0" fill="#00b8ff"/>
<rect x="202" y="120.3" width="1" height="2.0" fill="#00b8ff"/>
<rect x="203" y="119.1" width="1" height="2.0" fill="#00b8ff"/>
<rect x="204" y="120.3" width="1" height="2.0" fill="#00b8ff"/>
<rect x="205" y="121.5" width="1" height="2.0" fill="#00b8ff"/>
<rect x="206" y="120.7" width="1" height="2.0" fill="#00b8ff"/>
<rect x="207" y="119.1" width="1" height="2.0" fill="#00b8ff"/>
<rect x="208" y="118.2" width="1" height="2.0" fill="#00b8ff"/>
<rect x="209" y="103.8" width="1" height="2.0" fill="#00b8ff"/>
<rect x="210" y="106.2" width="1" height="2.0" fill="#00b8ff"/>
<rect x="211" y="122.2" width="1" height="2.0" fill="#00b8ff"/>
<rect x="212" y="121.7" width="1" height="2.0" fill="#00b8ff"/>
<rect x="213" y="120.4" width="1" height="2.0" fill="#00b8ff"/>
<rect x="214" y="117.9" width="1" height="2.0" fill="#00b8ff"/>
<rect x="215" y="119.0" width="1" height="2.0" fill="#26ff00"/>
<rect x="216" y="120.3" width="1" height="2.0" fill="#00b8ff"/>
<rect x="217" y="122.4" width="1" height="2.0" fill="#00b8ff"/>
<rect x="218" y="124.0" width="1" height="2.0" fill="#00b8ff"/>
<rect x="219" y="121.7" width="1" height="2.0" fill="#00b8ff"/>
<rect x="220" y="121.5" width="1" height="2.0" fill="#00b8ff"/>
<rect x="221" y="122.0" width="1" height="2.0" fill="#00b8ff"/>
<rect x="222" y="121.6" width="1" height="2.0" fill="#00b8ff"/>
<rect x="223" y="120.9" width="1" height="2.0" fill="#00b8ff"/>
<rect x="224" y="124.8" width="1" height="2.0" fill="#00b8ff"/>
<rect x="225" y="126.4" width="1" height="2.0" fill="#00b8ff"/>
<rect x="226" y="125.6" width="1" height="2.0" fill="#26ff00"/>
<rect x="227" y="120.9" width="1" height="2.0" fill="#00b8ff"/>
<rect x="228" y="117.9" width="1" height="2.0" fill="#00b8ff"/>
<rect x="229" y="100.7" width="1" height="2.0" fill="#00b8ff"/>
<rect x="230" y="101.9" width="1" height="2.0" fill="#00b8ff"/>
<rect x="231" y="109.9" width="1" height="2.0" fill="#00b8ff"/>
<rect x="232" y="111.7" width="1" height="2.0" fill="#00b8ff"/>
<rect x="233" y="115.7" width="1" height="2.0" fill="#00b8ff"/>
<rect x="234" y="121.5" width="1" height="2.0" fill="#00b8ff"/>
<rect x="235" y="125.2" width="1" height="2.0" fill="#00b8ff"/>
<rect x="236" y="121.3" width="1" height="2.0" fill="#00b8ff"/>
<rect x="237" y="114.8" width="1" height="2.0" fill="#00b8ff"/>
<rect x="238" y="116.5" width="1" height="2.0" fill="#00b8ff"/>
<rect x="239" y="117.9" width="1" height="2.0" fill="#00b8ff"/>
<rect x="240" y="116.0" width="1" height="2.0" fill="#00b8ff"/>
<rect x="241" y="116.5" width="1" height="2.0" fill="#00b8ff"/>
<rect x="242" y="114.9" width="1" height="2.0" fill="#00b8ff"/>
<rect x="243" y="115.4" width="1" height="2.0" fill="#00b8ff"/>
<rect x="244" y="117.9" width="1" height="2.0" fill="#00b8ff"/>
<rect x="245" y="125.8" width="1" height="2.0" fill="#00b8ff"/>
<rect x="246" y="124.2" width="1" height="2.0" fill="#00b8ff"/>
<rect x="247" y="124.6" width="1" height="2.0" fill="#00b8ff"/>
<rect x="248" y="120.8" width="1" height="2.0" fill="#00b8ff"/>
<rect x="249" y="116.0" width="1" height="2.0" fill="#00b8ff"/>
<rect x="250" y="118.7" width="1" height="2.0" fill="#00b8ff"/>
<rect x="251" y="120.9" width="1" height="2.0" fill="#00b8ff"/>
<rect x="252" y="122.7" width="1" height="2.0" fill="#00b8ff"/>
<rect x="253" y="127.1" width="1" height="2.0" fill="#00b8ff"/>
<rect x="254" y="123.5" width="1" height="2.0" fill="#00b8ff"/>
<rect x="255" y="120.3" width="1" height="2.0" fill="#00b8ff"/>
<rect x="256" y="119.6" width="1" height="2.0" fill="#00b8ff"/>
<rect x="257" y="120.4" width="1" height="2.0" fill="#00b8ff"/>
<rect x="258" y="117.4" width="1" height="2.0" fill="#00b8ff"/>
<rect x="259" y="117.9" width="1" height="2.0" fill="#00b8ff"/>
<rect x="260" y="117.4" width="1" height="2.0" fill="#00b8ff"/>
<rect x="261" y="117.3" width="1" height="2.0" fill="#00b8ff"/>
<rect x="262" y="116.6" width="1" height="2.0" fill="#00b8ff"/>
<rect x="263" y="123.4" width="1" height="2.0" fill="#00b8ff"/>
<rect x="264" y="123.9" width="1" height="2.0" fill="#00b8ff"/>
<rect x="265" y="122.7" width="1" height="2.0" fill="#00b8ff"/>
<rect x="266" y="120.9" width="1" height="2.0" fill="#00b8ff"/>
<rect x="267" y="124.0" width="1" height="2.0" fill="#00b8ff"/>
<rect x="268" y="126.7" width="1" height="2.0" fill="#00b8ff"/>
<rect x="269" y="126.7" width="1" height="2.0" fill="#00b8ff"/>
<rect x="270" y="128.3" width="1" height="2.0" fill="#00b8ff"/>
<rect x="271" y="128.4" width="1" height="2.0" fill="#00b8ff"/>
<rect x="272" y="128.9" width="1" height="2.0" fill="#00b8ff"/>
<rect x="273" y="126.2" width="1" height="2.0" fill="#00b8ff"/>
<rect x="274" y="123.4" width="1" height="2.0" fill="#00b8ff"/>
<rect x="275" y="123.4" width="1" height="2.0" fill="#00b8ff"/>
<rect x="276" y="121.6" width="1" height="2.0" fill="#00b8ff"/>
<rect x="277" y="119.1" width="1" height="2.0" fill="#00b8ff"/>
<rect x="278" y="126.4" width="1" height="2.0" fill="#26ff00"/>
<rect x="279" y="126.9" width="1" height="2.0" fill="#00b8ff"/>
<rect x="280" y="128.8" width="1" height="2.0" fill="#26ff00"/>
<rect x="281" y="130.7" width="1" height="2.0" fill="#00b8ff"/>
<rect x="282" y="129.9" width="1" height="2.0" fill="#00b8ff"/>
<rect x="283" y="130.7" width="1" height="2.0" fill="#00b8ff"/>
<rect x="284" y="113.6" width="1" height="2.0" fill="#00b8ff"/>
<rect x="285" y="114.9" width="1" height="2.0" fill="#00b8ff"/>
<rect x="286" y="117.3" width="1" height="2.0" fill="#00b8ff"/>
<rect x="287" y="128.3" width="1" height="2.0" fill="#00b8ff"/>
<rect x="288" y="125.2" width="1" height="2.0" fill="#00b8ff"/>
<rect x="289" y="122.2" width="1" height="2.0" fill="#00b8ff"/>
<rect x="290" y="114.2" width="1" height="2.0" fill="#00b8ff"/>
<rect x="291" y="114.1" width="1" height="2.0" fill="#00b8ff"/>
<rect x="292" y="113.6" width="1" height="2.0" fill="#00b8ff"/>
<rect x="293" y="119.7" width="1" height="2.0" fill="#00b8ff"/>
<rect x="294" y="116.6" width="1" height="2.0" fill="#00b8ff"/>
<rect x="295" y="115.4" width="1" height="2.0" fill="#00b8ff"/>
<rect x="296" y="114.2" width="1" height="2.0" fill="#00b8ff"/>
<rect x="297" y="114.6" width="1" height="2.0" fill="#00b8ff"/>
<rect x="298" y="119.1" width="1" height="2.0" fill="#00b8ff"/>
<rect x="299" y="119.4" width="1" height="2.0" fill="#00b8ff"/>
<rect x="300" y="120.3" width="1" height="2.0" fill="#00b8ff"/>
<rect x="301" y="120.6" width="1" height="2.0" fill="#00b8ff"/>
<rect x="302" y="122.5" width="1" height="2.0" fill="#00b8ff"/>
<rect x="303" y="123.4" width="1" height="2.0" fill="#00b8ff"/>
<rect x="304" y="117.9" width="1" height="2.0" fill="#00b8ff"/>
<rect x="305" y="122.8" width="1" height="2.0" fill="#00b8ff"/>
<rect x="306" y="122.4" width="1" height="2.0" fill="#00b8ff"/>
<rect x="307" y="117.9" width="1" height="2.0" fill="#00b8ff"/>
<rect x="308" y="120.6" width="1" height="2.0" fill="#00b8ff"/>
<rect x="309" y="122.8" width="1" height="2.0" fill="#00b8ff"/>
<rect x="310" y="123.2" width="1" height="2.0" fill="#00b8ff"/>
<rect x="311" y="123.9" width="1" height="2.0" fill="#00b8ff"/>
<rect x="312" y="124.0" width="1" height="2.0" fill="#00b8ff"/>
<rect x="313" y="124.2" width="1" height="2.0" fill="#00b8ff"/>
<rect x="314" y="123.4" width="1" height="2.0" fill="#00b8ff"/>
<rect x="315" y="118.5" width="1" height="2.0" fill="#26ff00"/>
<rect x="316" y="120.9" width="1" height="2.0" fill="#00b8ff"/>
<rect x="317" y="119.5" width="1" height="2.0" fill="#00b8ff"/>
<rect x="318" y="121.8" width="1" height="2.0" fill="#00b8ff"/>
<rect x="319" y="120.3" width="1" height="2.0" fill="#00b8ff"/>
<rect x="320" y="120.4" width="1" height="2.0" fill="#00b8ff"/>
<rect x="321" y="117.9" width="1" height="2.0" fill="#00b8ff"/>
<rect x="322" y="121.1" width="1" height="2.0" fill="#00b8ff"/>
<rect x="323" y="122.2" width="1" height="2.0" fill="#00b8ff"/>
<rect x="324" y="125.8" width="1" height="2.0" fill="#00b8ff"/>
<rect x="325" y="124.2" width="1" height="2.0" fill="#00b8ff"/>
<rect x="326" y="120.3" width="1" height="2.0" fill="#00b8ff"/>
<rect x="327" y="124.6" width="1" height="2.0" fill="#00b8ff"/>
<rect x="328" y="122.9" width="1" height="2.0" fill="#00b8ff"/>
<rect x="329" y="120.3" width="1" height="2.0" fill="#00b8ff"/>
<rect x="330" y="119.8" width="1" height="2.0" fill="#00b8ff"/>
<rect x="331" y="118.7" width="1" height="2.0" fill="#00b8ff"/>
<rect x="332" y="119.7" width="1" height="2.0" fill="#00b8ff"/>
<rect x="333" y="122.7" width="1" height="2.0" fill="#00b8ff"/>
<rect x="334" y="123.4" width="1" height="2.0" fill="#26ff00"/>
<rect x="335" y="120.3" width="1" height="2.0" fill="#00b8ff"/>
<rect x="336" y="119.4" width="1" height="2.0" fill="#00b8ff"/>
<rect x="337" y="121.5" width="1" height="2.0" fill="#00b8ff"/>
<rect x="338" y="118.9" width="1" height="2.0" fill="#00b8ff"/>
<rect x="339" y="117.6" width="1" height="2.0" fill="#00b8ff"/>
<rect x="340" y="117.3" width="1" height="2.0" fill="#00b8ff"/>
<rect x="341" y="114.9" width="1" height="2.0" fill="#00b8ff"/>
<rect x="342" y="115.4" width="1" height="2.0" fill="#00b8ff"/>
<rect x="343" y="123.4" width="1" height="2.0" fill="#26ff00"/>
<rect x="344" y="119.2" width="1" height="2.0" fill="#00b8ff"/>
<rect x="345" y="117.3" width="1" height="2.0" fill="#00b8ff"/>
<rect x="346" y="120.9" width="1" height="2.0" fill="#00b8ff"/>
<rect x="347" y="121.9" width="1" height="2.0" fill="#00b8ff"/>
<rect x="348" y="128.3" width="1" height="2.0" fill="#00b8ff"/>
<rect x="349" y="124.6" width="1" height="2.0" fill="#00b8ff"/>
<rect x="350" y="122.8" width="1" height="2.0" fill="#00b8ff"/>
<rect x="351" y="119.7" width="1" height="2.0" fill="#00b8ff"/>
<rect x="352" y="118.4" width="1" height="2.0" fill="#00b8ff"/>
<rect x="353" y="119.1" width="1" height="2.0" fill="#00b8ff"/>
<rect x="354" y="121.0" width="1" height="2.0" fill="#00b8ff"/>
<rect x="355" y="124.6" width="1" height="2.0" fill="#00b8ff"/>
<rect x="356" y="116.0" width="1" height="2.0" fill="#00b8ff"/>
<rect x="357" y="115.4" width="1" height="2.0" fill="#00b8ff"/>
<rect x="358" y="115.4" width="1" height="2.0" fill="#00b8ff"/>
<rect x="359" y="113.1" width="1" height="2.0" fill="#00b8ff"/>
<rect x="360" y="113.6" width="1" height="2.0" fill="#00b8ff"/>
<rect x="361" y="117.3" width="1" height="2.0" fill="#00b8ff"/>
<rect x="362" y="111.1" width="1" height="2.0" fill="#00b8ff"/>
<rect x="363" y="98.9" width="1" height="2.0" fill="#00b8ff"/>
<rect x="364" y="100.1" width="1" height="2.0" fill="#00b8ff"/>
<rect x="365" y="109.9" width="1" height="2.0" fill="#00b8ff"/>
<rect x="366" y="117.9" width="1" height="2.0" fill="#00b8ff"/>
<rect x="367" y="120.3" width="1" height="2.0" fill="#00b8ff"/>
<rect x="368" y="125.8" width="1" height="2.0" fill="#00b8ff"/>
<rect x="369" y="122.8" width="1" height="2.0" fill="#00b8ff"/>
<rect x="370" y="125.0" width="1" height="2.0" fill="#00b8ff"/>
<rect x="371" y="125.5" width="1" height="2.0" fill="#00b8ff"/>
<rect x="372" y="125.8" width="1" height="2.0" fill="#00b8ff"/>
<rect x="373" y="123.7" width="1" height="2.0" fill="#26ff00"/>
<rect x="374" y="124.0" width="1" height="2.0" fill="#00b8ff"/>
<rect x="375" y="120.6" width="1" height="2.0" fill="#00b8ff"/>
<rect x="376" y="119.1" width="1" height="2.0" fill="#26ff00"/>
<rect x="377" y="119.8" width="1" height="2.0" fill="#00b8ff"/>
<rect x="378" y="121.5" width="1" height="2.0" fill="#00b8ff"/>
<rect x="379" y="121.4" width="1" height="2.0" fill="#00b8ff"/>
<rect x="380" y="121.1" width="1" height="2.0" fill="#00b8ff"/>
<rect x="381" y="122.8" width="1" height="2.0" fill="#00b8ff"/>
<rect x="382" y="123.0" width="1" height="2.0" fill="#00b8ff"/>
<rect x="383" y="120.3" width="1" height="2.0" fill="#00b8ff"/>
<rect x="384" y="123.1" width="1" height="2.0" fill="#00b8ff"/>
<rect x="385" y="123.4" width="1" height="2.0" fill="#00b8ff"/>
<rect x="386" y="121.1" width="1" height="2.0" fill="#00b8ff"/>
<rect x="387" y="119.1" width="1" height="2.0" fill="#00b8ff"/>
<rect x="388" y="117.7" width="1" height="2.0" fill="#00b8ff"/>
<rect x="389" y="116.0" width="1" height="2.0" fill="#00b8ff"/>
<rect x="390" y="114.3" width="1" height="2.0" fill="#00b8ff"/>
<rect x="391" y="113.6" width="1" height="2.0" fill="#00b8ff"/>
<rect x="392" y="114.2" width="1" height="2.0" fill="#00b8ff"/>
<rect x="393" y="116.1" width="1" height="2.0" fill="#00b8ff"/>
<rect x="394" y="117.9" width="1" height="2.0" fill="#00b8ff"/>
<rect x="395" y="120.0" width="1" height="2.0" fill="#00b8ff"/>
<rect x="396" y="117.0" width="1" height="2.0" fill="#00b8ff"/>
<rect x="397" y="110.2" width="1" height="2.0" fill="#00b8ff"/>
<rect x="398" y="111.0" width="1" height="2.0" fill="#00b8ff"/>
<rect x="399" y="112.1" width="1" height="2.0" fill="#ff0000"/>
<rect x="400" y="112.1" width="1" height="2.0" fill="#ff0000"/>
<rect x="401" y="109.3" width="1" height="2.0" fill="#0059ff"/>
<rect x="402" y="109.1" width="1" height="2.0" fill="#0059ff"/>
<rect x="438" y="100.9" width="1" height="2.2" fill="#ff5500"/>
<rect x="439" y="102.6" width="1" height="2.2" fill="#00b8ff"/>
<rect x="440" y="103.2" width="1" height="2.2" fill="#26ff00"/>
<rect x="441" y="83.0" width="1" height="2.2" fill="#00b8ff"/>
<rect x="442" y="83.5" width="1" height="2.2" fill="#00b8ff"/>
<rect x="443" y="101.5" width="1" height="2.2" fill="#26ff00"/>
<rect x="444" y="102.1" width="1" height="2.2" fill="#26ff00"/>
<rect x="445" y="98.7" width="1" height="2.2" fill="#26ff00"/>
<rect x="446" y="107.1" width="1" height="2.2" fill="#26ff00"/>
<rect x="447" y="83.5" width="1" height="2.2" fill="#00b8ff"/>
<rect x="448" y="77.9" width="1" height="2.2" fill="#26ff00"/>
<rect x="449" y="84.1" width="1" height="2.2" fill="#26ff00"/>
<rect x="450" y="100.4" width="1" height="2.2" fill="#00b8ff"/>
<rect x="451" y="103.8" width="1" height="2.2" fill="#26ff00"/>
<rect x="452" y="105.8" width="1" height="2.2" fill="#26ff00"/>
<rect x="453" y="107.1" width="1" height="2.2" fill="#26ff00"/>
<rect x="454" y="98.7" width="1" height="2.2" fill="#26ff00"/>
<rect x="455" y="93.1" width="1" height="2.2" fill="#26ff00"/>
<rect x="456" y="106.0" width="1" height="2.2" fill="#00b8ff"/>
<rect x="457" y="113.9" width="1" height="2.2" fill="#26ff00"/>
<rect x="458" y="111.7" width="1" height="2.2" fill="#26ff00"/>
<rect x="459" y="109.9" width="1" height="2.2" fill="#26ff00"/>
<rect x="460" y="103.2" width="1" height="2.2" fill="#00b8ff"/>
<rect x="461" y="95.3" width="1" height="2.2" fill="#00b8ff"/>
<rect x="462" y="95.9" width="1" height="2.2" fill="#00b8ff"/>
<rect x="463" y="97.0" width="1" height="2.2" fill="#26ff00"/>
<rect x="464" y="97.4" width="1" height="2.2" fill="#26ff00"/>
<rect x="465" y="98.1" width="1" height="2.2" fill="#00b8ff"/>
<rect x="466" y="98.9" width="1" height="2.2" fill="#00b8ff"/>
<rect x="467" y="101.5" width="1" height="2.2" fill="#26ff00"/>
<rect x="468" y="101.3" width="1" height="2.2" fill="#26ff00"/>
<rect x="469" y="100.9" width="1" height="2.2" fill="#26ff00"/>
<rect x="470" y="99.8" width="1" height="2.2" fill="#26ff00"/>
<rect x="471" y="95.9" width="1" height="2.2" fill="#26ff00"/>
<rect x="472" y="100.3" width="1" height="2.2" fill="#26ff00"/>
<rect x="473" y="106.0" width="1" height="2.2" fill="#00b8ff"/>
<rect x="474" y="113.9" width="1" height="2.2" fill="#00b8ff"/>
<rect x="475" y="112.2" width="1" height="2.2" fill="#00b8ff"/>
<rect x="476" y="108.2" width="1" height="2.2" fill="#26ff00"/>
<rect x="477" y="84.7" width="1" height="2.2" fill="#00b8ff"/>
<rect x="478" y="81.3" width="1" height="2.2" fill="#26ff00"/>
<rect x="479" y="82.1" width="1" height="2.2" fill="#26ff00"/>
<rect x="480" y="83.0" width="1" height="2.2" fill="#26ff00"/>
<rect x="481" y="93.7" width="1" height="2.2" fill="#26ff00"/>
<rect x="482" y="98.1" width="1" height="2.2" fill="#00b8ff"/>
<rect x="483" y="109.9" width="1" height="2.2" fill="#ff5500"/>
</g>
<g fill="none">
<line x1="77.5" y1="26" x2="77.5" y2="330" stroke="#8f8f8f" stroke-opacity="0.36" stroke-width="1" stroke-dasharray="1 1"/>
<line x1="92.5" y1="26" x2="92.5" y2="330" stroke="#8f8f8f" stroke-opacity="0.36" stroke-width="1" stroke-dasharray="1 1"/>
<line x1="108.5" y1="26" x2="108.5" y2="330" stroke="#8f8f8f" stroke-opacity="0.36" stroke-width="1" stroke-dasharray="1 1"/>
<line x1="123.5" y1="26" x2="123.5" y2="330" stroke="#8f8f8f" stroke-opacity="0.36" stroke-width="1" stroke-dasharray="1 1"/>
<line x1="139.5" y1="26" x2="139.5" y2="330" stroke="#8f8f8f" stroke-opacity="0.36" stroke-width="1" stroke-dasharray="1 1"/>
<line x1="154.5" y1="26" x2="154.5" y2="330" stroke="#8f8f8f" stroke-opacity="0.36" stroke-width="1" stroke-dasharray="1 1"/>
<line x1="170.5" y1="26" x2="170.5" y2="330" stroke="#8f8f8f" stroke-opacity="0.36" stroke-width="1" stroke-dasharray="1 1"/>
<line x1="185.5" y1="26" x2="185.5" y2="330" stroke="#8f8f8f" stroke-opacity="0.36" stroke-width="1" stroke-dasharray="1 1"/>
<line x1="201.5" y1="26" x2="201.5" y2="330" stroke="#8f8f8f" stroke-opacity="0.36" stroke-width="1" stroke-dasharray="1 1"/>
<line x1="217.5" y1="26" x2="217.5" y2="330" stroke="#8f8f8f" stroke-opacity="0.36" stroke-width="1" stroke-dasharray="1 1"/>
<line x1="232.5" y1="26" x2="232.5" y2="330" stroke="#8f8f8f" stroke-opacity="0.36" stroke-width="1" stroke-dasharray="1 1"/>
<line x1="248.5" y1="26" x2="248.5" y2="330" stroke="#8f8f8f" stroke-opacity="0.36" stroke-width="1" stroke-dasharray="1 1"/>
<line x1="263.5" y1="26" x2="263.5" y2="330" stroke="#8f8f8f" stroke-opacity="0.36" stroke-width="1" stroke-dasharray="1 1"/>
<line x1="279.5" y1="26" x2="279.5" y2="330" stroke="#8f8f8f" stroke-opacity="0.36" stroke-width="1" stroke-dasharray="1 1"/>
<line x1="294.5" y1="26" x2="294.5" y2="330" stroke="#8f8f8f" stroke-opacity="0.36" stroke-width="1" stroke-dasharray="1 1"/>
<line x1="310.5" y1="26" x2="310.5" y2="330" stroke="#8f8f8f" stroke-opacity="0.36" stroke-width="1" stroke-dasharray="1 1"/>
<line x1="325.5" y1="26" x2="325.5" y2="330" stroke="#8f8f8f" stroke-opacity="0.36" stroke-width="1" stroke-dasharray="1 1"/>
<line x1="341.5" y1="26" x2="341.5" y2="330" stroke="#8f8f8f" stroke-opacity="0.36" stroke-width="1" stroke-dasharray="1 1"/>
<line x1="357.5" y1="26" x2="357.5" y2="330" stroke="#8f8f8f" stroke-opacity="0.36" stroke-width="1" stroke-dasharray="1 1"/>
<line x1="372.5" y1="26" x2="372.5" y2="330" stroke="#8f8f8f" stroke-opacity="0.36" stroke-width="1" stroke-dasharray="1 1"/>
<line x1="388.5" y1="26" x2="388.5" y2="330" stroke="#8f8f8f" stroke-opacity="0.36" stroke-width="1" stroke-dasharray="1 1"/>
<line x1="403.5" y1="26" x2="403.5" y2="330" stroke="#8f8f8f" stroke-opacity="0.36" stroke-width="1" stroke-dasharray="1 1"/>
<line x1="419.5" y1="26" x2="419.5" y2="330" stroke="#8f8f8f" stroke-opacity="0.36" stroke-width="1" stroke-dasharray="1 1"/>
<line x1="434.5" y1="26" x2="434.5" y2="330" stroke="#8f8f8f" stroke-opacity="0.36" stroke-width="1" stroke-dasharray="1 1"/>
<line x1="450.5" y1="26" x2="450.5" y2="330" stroke="#8f8f8f" stroke-opacity="0.36" stroke-width="1" stroke-dasharray="1 1"/>
<line x1="465.5" y1="26" x2="465.5" y2="330" stroke="#8f8f8f" stroke-opacity="0.36" stroke-width="1" stroke-dasharray="1 1"/>
<line x1="481.5" y1="26" x2="481.5" y2="330" stroke="#8f8f8f" stroke-opacity="0.36" stroke-width="1" stroke-dasharray="1 1"/>
<line x1="497.5" y1="26" x2="497.5" y2="330" stroke="#8f8f8f" stroke-opacity="0.36" stroke-width="1" stroke-dasharray="1 1"/>
<line x1="512.5" y1="26" x2="512.5" y2="330" stroke="#8f8f8f" stroke-opacity="0.36" stroke-width="1" stroke-dasharray="1 1"/>
<line x1="528.5" y1="26" x2="528.5" y2="330" stroke="#8f8f8f" stroke-opacity="0.36" stroke-width="1" stroke-dasharray="1 1"/>
<line x1="543.5" y1="26" x2="543.5" y2="330" stroke="#8f8f8f" stroke-opacity="0.36" stroke-width="1" stroke-dasharray="1 1"/>
<line x1="559.5" y1="26" x2="559.5" y2="330" stroke="#8f8f8f" stroke-opacity="0.36" stroke-width="1" stroke-dasharray="1 1"/>
<line x1="574.5" y1="26" x2="574.5" y2="330" stroke="#8f8f8f" stroke-opacity="0.36" stroke-width="1" stroke-dasharray="1 1"/>
<line x1="590.5" y1="26" x2="590.5" y2="330" stroke="#8f8f8f" stroke-opacity="0.36" stroke-width="1" stroke-dasharray="1 1"/>
<line x1="605.5" y1="26" x2="605.5" y2="330" stroke="#8f8f8f" stroke-opacity="0.36" stroke-width="1" stroke-dasharray="1 1"/>
<line x1="621.5" y1="26" x2="621.5" y2="330" stroke="#8f8f8f" stroke-opacity="0.36" stroke-width="1" stroke-dasharray="1 1"/>
<line x1="637.5" y1="26" x2="637.5" y2="330" stroke="#8f8f8f" stroke-opacity="0.36" stroke-width="1" stroke-dasharray="1 1"/>
<line x1="652.5" y1="26" x2="652.5" y2="330" stroke="#8f8f8f" stroke-opacity="0.36" stroke-width="1" stroke-dasharray="1 1"/>
<line x1="668.5" y1="26" x2="668.5" y2="330" stroke="#8f8f8f" stroke-opacity="0.36" stroke-width="1" stroke-dasharray="1 1"/>
<line x1="683.5" y1="26" x2="683.5" y2="330" stroke="#8f8f8f" stroke-opacity="0.36" stroke-width="1" stroke-dasharray="1 1"/>
<line x1="699.5" y1="26" x2="699.5" y2="330" stroke="#8f8f8f" stroke-opacity="0.36" stroke-width="1" stroke-dasharray="1 1"/>
<line x1="714.5" y1="26" x2="714.5" y2="330" stroke="#8f8f8f" stroke-opacity="0.36" stroke-width="1" stroke-dasharray="1 1"/>
<line x1="730.5" y1="26" x2="730.5" y2="330" stroke="#8f8f8f" stroke-opacity="0.36" stroke-width="1" stroke-dasharray="1 1"/>
<line x1="745.5" y1="26" x2="745.5" y2="330" stroke="#8f8f8f" stroke-opacity="0.36" stroke-width="1" stroke-dasharray="1 1"/>
<line x1="761.5" y1="26" x2="761.5" y2="330" stroke="#8f8f8f" stroke-opacity="0.36" stroke-width="1" stroke-dasharray="1 1"/>
<line x1="777.5" y1="26" x2="777.5" y2="330" stroke="#8f8f8f" stroke-opacity="0.36" stroke-width="1" stroke-dasharray="1 1"/>
<line x1="792.5" y1="26" x2="792.5" y2="330" stroke="#8f8f8f" stroke-opacity="0.36" stroke-width="1" stroke-dasharray="1 1"/>
<line x1="808.5" y1="26" x2="808.5" y2="330" stroke="#8f8f8f" stroke-opacity="0.36" stroke-width="1" stroke-dasharray="1 1"/>
<line x1="823.5" y1="26" x2="823.5" y2="330" stroke="#8f8f8f" stroke-opacity="0.36" stroke-width="1" stroke-dasharray="1 1"/>
<line x1="839.5" y1="26" x2="839.5" y2="330" stroke="#8f8f8f" stroke-opacity="0.36" stroke-width="1" stroke-dasharray="1 1"/>
<line x1="854.5" y1="26" x2="854.5" y2="330" stroke="#8f8f8f" stroke-opacity="0.36" stroke-width="1" stroke-dasharray="1 1"/>
<line x1="99.5" y1="26" x2="99.5" y2="331" stroke="#de4f4f" stroke-opacity="0.45" stroke-width="1" stroke-dasharray="1 1"/>
<line x1="168.5" y1="26" x2="168.5" y2="331" stroke="#de4f4f" stroke-opacity="0.45" stroke-width="1" stroke-dasharray="1 1"/>
<line x1="230.5" y1="26" x2="230.5" y2="331" stroke="#de4f4f" stroke-opacity="0.45" stroke-width="1" stroke-dasharray="1 1"/>
<line x1="299.5" y1="26" x2="299.5" y2="331" stroke="#de4f4f" stroke-opacity="0.45" stroke-width="1" stroke-dasharray="1 1"/>
<line x1="365.5" y1="26" x2="365.5" y2="331" stroke="#de4f4f" stroke-opacity="0.45" stroke-width="1" stroke-dasharray="1 1"/>
<line x1="434.5" y1="26" x2="434.5" y2="331" stroke="#de4f4f" stroke-opacity="0.45" stroke-width="1" stroke-dasharray="1 1"/>
<line x1="501.5" y1="26" x2="501.5" y2="331" stroke="#de4f4f" stroke-opacity="0.45" stroke-width="1" stroke-dasharray="1 1"/>
<line x1="570.5" y1="26" x2="570.5" y2="331" stroke="#de4f4f" stroke-opacity="0.45" stroke-width="1" stroke-dasharray="1 1"/>
<line x1="639.5" y1="26" x2="639.5" y2="331" stroke="#de4f4f" stroke-opacity="0.45" stroke-width="1" stroke-dasharray="1 1"/>
<line x1="705.5" y1="26" x2="705.5" y2="331" stroke="#de4f4f" stroke-opacity="0.45" stroke-width="1" stroke-dasharray="1 1"/>
<line x1="774.5" y1="26" x2="774.5" y2="331" stroke="#de4f4f" stroke-opacity="0.45" stroke-width="1" stroke-dasharray="1 1"/>
<line x1="841.5" y1="26" x2="841.5" y2="331" stroke="#de4f4f" stroke-opacity="0.45" stroke-width="1" stroke-dasharray="1 1"/>
<line x1="67" y1="328.5" x2="867" y2="328.5" stroke="#de4f4f" stroke-opacity="0.45" stroke-width="1" stroke-dasharray="1 1"/>
<line x1="68" y1="319.5" x2="867" y2="319.5" stroke="#8f8f8f" stroke-opacity="0.36" stroke-width="1" stroke-dasharray="1 1"/>
<line x1="68" y1="309.5" x2="867" y2="309.5" stroke="#8f8f8f" stroke-opacity="0.36" stroke-width="1" stroke-dasharray="1 1"/>
<line x1="68" y1="300.5" x2="867" y2="300.5" stroke="#8f8f8f" stroke-opacity="0.36" stroke-width="1" stroke-dasharray="1 1"/>
<line x1="68" y1="290.5" x2="867" y2="290.5" stroke="#8f8f8f" stroke-opacity="0.36" stroke-width="1" stroke-dasharray="1 1"/>
<line x1="67" y1="281.5" x2="867" y2="281.5" stroke="#de4f4f" stroke-opacity="0.45" stroke-width="1" stroke-dasharray="1 1"/>
<line x1="68" y1="271.5" x2="867" y2="271.5" stroke="#8f8f8f" stroke-opacity="0.36" stroke-width="1" stroke-dasharray="1 1"/>
<line x1="68" y1="262.5" x2="867" y2="262.5" stroke="#8f8f8f" stroke-opacity="0.36" stroke-width="1" stroke-dasharray="1 1"/>
<line x1="68" y1="252.5" x2="867" y2="252.5" stroke="#8f8f8f" stroke-opacity="0.36" stroke-width="1" stroke-dasharray="1 1"/>
<line x1="68" y1="243.5" x2="867" y2="243.5" stroke="#8f8f8f" stroke-opacity="0.36" stroke-width="1" stroke-dasharray="1 1"/>
<line x1="67" y1="233.5" x2="867" y2="233.5" stroke="#de4f4f" stroke-opacity="0.45" stroke-width="1" stroke-dasharray="1 1"/>
<line x1="68" y1="224.5" x2="867" y2="224.5" stroke="#8f8f8f" stroke-opacity="0.36" stroke-width="1" stroke-dasharray="1 1"/>
<line x1="68" y1="214.5" x2="867" y2="214.5" stroke="#8f8f8f" stroke-opacity="0.36" stroke-width="1" stroke-dasharray="1 1"/>
<line x1="68" y1="205.5" x2="867" y2="205.5" stroke="#8f8f8f" stroke-opacity="0.36" stroke-width="1" stroke-dasharray="1 1"/>
<line x1="68" y1="196.5" x2="867" y2="196.5" stroke="#8f8f8f" stroke-opacity="0.36" stroke-width="1" stroke-dasharray="1 1"/>
<line x1="67" y1="186.5" x2="867" y2="186.5" stroke="#de4f4f" stroke-opacity="0.45" stroke-width="1" stroke-dasharray="1 1"/>
<line x1="68" y1="177.5" x2="867" y2="177.5" stroke="#8f8f8f" stroke-opacity="0.36" stroke-width="1" stroke-dasharray="1 1"/>
<line x1="68" y1="167.5" x2="867" y2="167.5" stroke="#8f8f8f" stroke-opacity="0.36" stroke-width="1" stroke-dasharray="1 1"/>
<line x1="68" y1="158.5" x2="867" y2="158.5" stroke="#8f8f8f" stroke-opacity="0.36" stroke-width="1" stroke-dasharray="1 1"/>
<line x1="68" y1="148.5" x2="867" y2="148.5" stroke="#8f8f8f" stroke-opacity="0.36" stroke-width="1" stroke-dasharray="1 1"/>
<line x1="67" y1="139.5" x2="867" y2="139.5" stroke="#de4f4f" stroke-opacity="0.45" stroke-width="1" stroke-dasharray="1 1"/>
<line x1="68" y1="129.5" x2="867" y2="129.5" stroke="#8f8f8f" stroke-opacity="0.36" stroke-width="1" stroke-dasharray="1 1"/>
<line x1="68" y1="120.5" x2="867" y2="120.5" stroke="#8f8f8f" stroke-opacity="0.36" stroke-width="1" stroke-dasharray="1 1"/>
<line x1="68" y1="110.5" x2="867" y2="110.5" stroke="#8f8f8f" stroke-opacity="0.36" stroke-width="1" stroke-dasharray="1 1"/>
<line x1="68" y1="101.5" x2="867" y2="101.5" stroke="#8f8f8f" stroke-opacity="0.36" stroke-width="1" stroke-dasharray="1 1"/>
<line x1="67" y1="91.5" x2="867" y2="91.5" stroke="#de4f4f" stroke-opacity="0.45" stroke-width="1" stroke-dasharray="1 1"/>
<line x1="68" y1="82.5" x2="867" y2="82.5" stroke="#8f8f8f" stroke-opacity="0.36" stroke-width="1" stroke-dasharray="1 1"/>
<line x1="68" y1="72.5" x2="867" y2="72.5" stroke="#8f8f8f" stroke-opacity="0.36" stroke-width="1" stroke-dasharray="1 1"/>
<line x1="68" y1="63.5" x2="867" y2="63.5" stroke="#8f8f8f" stroke-opacity="0.36" stroke-width="1" stroke-dasharray="1 1"/>
<line x1="68" y1="54.5" x2="867" y2="54.5" stroke="#8f8f8f" stroke-opacity="0.36" stroke-width="1" stroke-dasharray="1 1"/>
<line x1="67" y1="44.5" x2="867" y2="44.5" stroke="#de4f4f" stroke-opacity="0.45" stroke-width="1" stroke-dasharray="1 1"/>
<line x1="68" y1="35.5" x2="867" y2="35.5" stroke="#8f8f8f" stroke-opacity="0.36" stroke-width="1" stroke-dasharray="1 1"/>
<rect x="77" y="26" width="1" height="2" fill="#8f8f8f" fill-opacity="0.4"/>
<rect x="77" y="329" width="1" height="2" fill="#8f8f8f" fill-opacity="0.4"/>
<rect x="92" y="26" width="1" height="2" fill="#8f8f8f" fill-opacity="0.4"/>
<rect x="92" y="329" width="1" height="2" fill="#8f8f8f" fill-opacity="0.4"/>
<rect x="108" y="26" width="1" height="2" fill="#8f8f8f" fill-opacity="0.4"/>
<rect x="108" y="329" width="1" height="2" fill="#8f8f8f" fill-opacity="0.4"/>
<rect x="123" y="26" width="1" height="2" fill="#8f8f8f" fill-opacity="0.4"/>
<rect x="123" y="329" width="1" height="2" fill="#8f8f8f" fill-opacity="0.4"/>
<rect x="139" y="26" width="1" height="2" fill="#8f8f8f" fill-opacity="0.4"/>
<rect x="139" y="329" width="1" height="2" fill="#8f8f8f" fill-opacity="0.4"/>
<rect x="154" y="26" width="1" height="2" fill="#8f8f8f" fill-opacity="0.4"/>
<rect x="154" y="329" width="1" height="2" fill="#8f8f8f" fill-opacity="0.4"/>
<rect x="170" y="26" width="1" height="2" fill="#8f8f8f" fill-opacity="0.4"/>
<rect x="170" y="329" width="1" height="2" fill="#8f8f8f" fill-opacity="0.4"/>
<rect x="185" y="26" width="1" height="2" fill="#8f8f8f" fill-opacity="0.4"/>
<rect x="185" y="329" width="1" height="2" fill="#8f8f8f" fill-opacity="0.4"/>
<rect x="201" y="26" width="1" height="2" fill="#8f8f8f" fill-opacity="0.4"/>
<rect x="201" y="329" width="1" height="2" fill="#8f8f8f" fill-opacity="0.4"/>
<rect x="217" y="26" width="1" height="2" fill="#8f8f8f" fill-opacity="0.4"/>
<rect x="217" y="329" width="1" height="2" fill="#8f8f8f" fill-opacity="0.4"/>
<rect x="232" y="26" width="1" height="2" fill="#8f8f8f" fill-opacity="0.4"/>
<rect x="232" y="329" width="1" height="2" fill="#8f8f8f" fill-opacity="0.4"/>
<rect x="248" y="26" width="1" height="2" fill="#8f8f8f" fill-opacity="0.4"/>
<rect x="248" y="329" width="1" height="2" fill="#8f8f8f" fill-opacity="0.4"/>
<rect x="263" y="26" width="1" height="2" fill="#8f8f8f" fill-opacity="0.4"/>
<rect x="263" y="329" width="1" height="2" fill="#8f8f8f" fill-opacity="0.4"/>
<rect x="279" y="26" width="1" height="2" fill="#8f8f8f" fill-opacity="0.4"/>
<rect x="279" y="329" width="1" height="2" fill="#8f8f8f" fill-opacity="0.4"/>
<rect x="294" y="26" width="1" height="2" fill="#8f8f8f" fill-opacity="0.4"/>
<rect x="294" y="329" width="1" height="2" fill="#8f8f8f" fill-opacity="0.4"/>
<rect x="310" y="26" width="1" height="2" fill="#8f8f8f" fill-opacity="0.4"/>
<rect x="310" y="329" width="1" height="2" fill="#8f8f8f" fill-opacity="0.4"/>
<rect x="325" y="26" width="1" height="2" fill="#8f8f8f" fill-opacity="0.4"/>
<rect x="325" y="329" width="1" height="2" fill="#8f8f8f" fill-opacity="0.4"/>
<rect x="341" y="26" width="1" height="2" fill="#8f8f8f" fill-opacity="0.4"/>
<rect x="341" y="329" width="1" height="2" fill="#8f8f8f" fill-opacity="0.4"/>
<rect x="357" y="26" width="1" height="2" fill="#8f8f8f" fill-opacity="0.4"/>
<rect x="357" y="329" width="1" height="2" fill="#8f8f8f" fill-opacity="0.4"/>
<rect x="372" y="26" width="1" height="2" fill="#8f8f8f" fill-opacity="0.4"/>
<rect x="372" y="329" width="1" height="2" fill="#8f8f8f" fill-opacity="0.4"/>
<rect x="388" y="26" width="1" height="2" fill="#8f8f8f" fill-opacity="0.4"/>
<rect x="388" y="329" width="1" height="2" fill="#8f8f8f" fill-opacity="0.4"/>
<rect x="403" y="26" width="1" height="2" fill="#8f8f8f" fill-opacity="0.4"/>
<rect x="403" y="329" width="1" height="2" fill="#8f8f8f" fill-opacity="0.4"/>
<rect x="419" y="26" width="1" height="2" fill="#8f8f8f" fill-opacity="0.4"/>
<rect x="419" y="329" width="1" height="2" fill="#8f8f8f" fill-opacity="0.4"/>
<rect x="434" y="26" width="1" height="2" fill="#8f8f8f" fill-opacity="0.4"/>
<rect x="434" y="329" width="1" height="2" fill="#8f8f8f" fill-opacity="0.4"/>
<rect x="450" y="26" width="1" height="2" fill="#8f8f8f" fill-opacity="0.4"/>
<rect x="450" y="329" width="1" height="2" fill="#8f8f8f" fill-opacity="0.4"/>
<rect x="465" y="26" width="1" height="2" fill="#8f8f8f" fill-opacity="0.4"/>
<rect x="465" y="329" width="1" height="2" fill="#8f8f8f" fill-opacity="0.4"/>
<rect x="481" y="26" width="1" height="2" fill="#8f8f8f" fill-opacity="0.4"/>
<rect x="481" y="329" width="1" height="2" fill="#8f8f8f" fill-opacity="0.4"/>
<rect x="497" y="26" width="1" height="2" fill="#8f8f8f" fill-opacity="0.4"/>
<rect x="497" y="329" width="1" height="2" fill="#8f8f8f" fill-opacity="0.4"/>
<rect x="512" y="26" width="1" height="2" fill="#8f8f8f" fill-opacity="0.4"/>
<rect x="512" y="329" width="1" height="2" fill="#8f8f8f" fill-opacity="0.4"/>
<rect x="528" y="26" width="1" height="2" fill="#8f8f8f" fill-opacity="0.4"/>
<rect x="528" y="329" width="1" height="2" fill="#8f8f8f" fill-opacity="0.4"/>
<rect x="543" y="26" width="1" height="2" fill="#8f8f8f" fill-opacity="0.4"/>
<rect x="543" y="329" width="1" height="2" fill="#8f8f8f" fill-opacity="0.4"/>
<rect x="559" y="26" width="1" height="2" fill="#8f8f8f" fill-opacity="0.4"/>
<rect x="559" y="329" width="1" height="2" fill="#8f8f8f" fill-opacity="0.4"/>
<rect x="574" y="26" width="1" height="2" fill="#8f8f8f" fill-opacity="0.4"/>
<rect x="574" y="329" width="1" height="2" fill="#8f8f8f" fill-opacity="0.4"/>
<rect x="590" y="26" width="1" height="2" fill="#8f8f8f" fill-opacity="0.4"/>
<rect x="590" y="329" width="1" height="2" fill="#8f8f8f" fill-opacity="0.4"/>
<rect x="605" y="26" width="1" height="2" fill="#8f8f8f" fill-opacity="0.4"/>
<rect x="605" y="329" width="1" height="2" fill="#8f8f8f" fill-opacity="0.4"/>
<rect x="621" y="26" width="1" height="2" fill="#8f8f8f" fill-opacity="0.4"/>
<rect x="621" y="329" width="1" height="2" fill="#8f8f8f" fill-opacity="0.4"/>
<rect x="637" y="26" width="1" height="2" fill="#8f8f8f" fill-opacity="0.4"/>
<rect x="637" y="329" width="1" height="2" fill="#8f8f8f" fill-opacity="0.4"/>
<rect x="652" y="26" width="1" height="2" fill="#8f8f8f" fill-opacity="0.4"/>
<rect x="652" y="329" width="1" height="2" fill="#8f8f8f" fill-opacity="0.4"/>
<rect x="668" y="26" width="1" height="2" fill="#8f8f8f" fill-opacity="0.4"/>
<rect x="668" y="329" width="1" height="2" fill="#8f8f8f" fill-opacity="0.4"/>
<rect x="683" y="26" width="1" height="2" fill="#8f8f8f" fill-opacity="0.4"/>
<rect x="683" y="329" width="1" height="2" fill="#8f8f8f" fill-opacity="0.4"/>
<rect x="699" y="26" width="1" height="2" fill="#8f8f8f" fill-opacity="0.4"/>
<rect x="699" y="329" width="1" height="2" fill="#8f8f8f" fill-opacity="0.4"/>
<rect x="714" y="26" width="1" height="2" fill="#8f8f8f" fill-opacity="0.4"/>
<rect x="714" y="329" width="1" height="2" fill="#8f8f8f" fill-opacity="0.4"/>
<rect x="730" y="26" width="1" height="2" fill="#8f8f8f" fill-opacity="0.4"/>
<rect x="730" y="329" width="1" height="2" fill="#8f8f8f" fill-opacity="0.4"/>
<rect x="745" y="26" width="1" height="2" fill="#8f8f8f" fill-opacity="0.4"/>
<rect x="745" y="329" width="1" height="2" fill="#8f8f8f" fill-opacity="0.4"/>
<rect x="761" y="26" width="1" height="2" fill="#8f8f8f" fill-opacity="0.4"/>
<rect x="761" y="329" width="1" height="2" fill="#8f8f8f" fill-opacity="0.4"/>
<rect x="777" y="26" width="1" height="2" fill="#8f8f8f" fill-opacity="0.4"/>
<rect x="777" y="329" width="1" height="2" fill="#8f8f8f" fill-opacity="0.4"/>
<rect x="792" y="26" width="1" height="2" fill="#8f8f8f" fill-opacity="0.4"/>
<rect x="792" y="329" width="1" height="2" fill="#8f8f8f" fill-opacity="0.4"/>
<rect x="808" y="26" width="1" height="2" fill="#8f8f8f" fill-opacity="0.4"/>
<rect x="808" y="329" width="1" height="2" fill="#8f8f8f" fill-opacity="0.4"/>
<rect x="823" y="26" width="1" height="2" fill="#8f8f8f" fill-opacity="0.4"/>
<rect x="823" y="329" width="1" height="2" fill="#8f8f8f" fill-opacity="0.4"/>
<rect x="839" y="26" width="1" height="2" fill="#8f8f8f" fill-opacity="0.4"/>
<rect x="839" y="329" width="1" height="2" fill="#8f8f8f" fill-opacity="0.4"/>
<rect x="854" y="26" width="1" height="2" fill="#8f8f8f" fill-opacity="0.4"/>
<rect x="854" y="329" width="1" height="2" fill="#8f8f8f" fill-opacity="0.4"/>
<rect x="99" y="26" width="1" height="2" fill="#de4f4f" fill-opacity="0.5"/>
<rect x="99" y="329" width="1" height="2" fill="#de4f4f" fill-opacity="0.5"/>
<rect x="168" y="26" width="1" height="2" fill="#de4f4f" fill-opacity="0.5"/>
<rect x="168" y="329" width="1" height="2" fill="#de4f4f" fill-opacity="0.5"/>
<rect x="230" y="26" width="1" height="2" fill="#de4f4f" fill-opacity="0.5"/>
<rect x="230" y="329" width="1" height="2" fill="#de4f4f" fill-opacity="0.5"/>
<rect x="299" y="26" width="1" height="2" fill="#de4f4f" fill-opacity="0.5"/>
<rect x="299" y="329" width="1" height="2" fill="#de4f4f" fill-opacity="0.5"/>
<rect x="365" y="26" width="1" height="2" fill="#de4f4f" fill-opacity="0.5"/>
<rect x="365" y="329" width="1" height="2" fill="#de4f4f" fill-opacity="0.5"/>
<rect x="434" y="26" width="1" height="2" fill="#de4f4f" fill-opacity="0.5"/>
<rect x="434" y="329" width="1" height="2" fill="#de4f4f" fill-opacity="0.5"/>
<rect x="501" y="26" width="1" height="2" fill="#de4f4f" fill-opacity="0.5"/>
<rect x="501" y="329" width="1" height="2" fill="#de4f4f" fill-opacity="0.5"/>
<rect x="570" y="26" width="1" height="2" fill="#de4f4f" fill-opacity="0.5"/>
<rect x="570" y="329" width="1" height="2" fill="#de4f4f" fill-opacity="0.5"/>
<rect x="639" y="26" width="1" height="2" fill="#de4f4f" fill-opacity="0.5"/>
<rect x="639" y="329" width="1" height="2" fill="#de4f4f" fill-opacity="0.5"/>
<rect x="705" y="26" width="1" height="2" fill="#de4f4f" fill-opacity="0.5"/>
<rect x="705" y="329" width="1" height="2" fill="#de4f4f" fill-opacity="0.5"/>
<rect x="774" y="26" width="1" height="2" fill="#de4f4f" fill-opacity="0.5"/>
<rect x="774" y="329" width="1" height="2" fill="#de4f4f" fill-opacity="0.5"/>
<rect x="841" y="26" width="1" height="2" fill="#de4f4f" fill-opacity="0.5"/>
<rect x="841" y="329" width="1" height="2" fill="#de4f4f" fill-opacity="0.5"/>
<rect x="64" y="328" width="2" height="1" fill="#de4f4f" fill-opacity="0.4"/>
<rect x="867" y="328" width="2" height="1" fill="#de4f4f" fill-opacity="0.5"/>
<rect x="65" y="319" width="1" height="1" fill="#8f8f8f" fill-opacity="0.35"/>
<rect x="867" y="319" width="2" height="1" fill="#8f8f8f" fill-opacity="0.4"/>
<rect x="65" y="309" width="1" height="1" fill="#8f8f8f" fill-opacity="0.35"/>
<rect x="867" y="309" width="2" height="1" fill="#8f8f8f" fill-opacity="0.4"/>
<rect x="65" y="300" width="1" height="1" fill="#8f8f8f" fill-opacity="0.35"/>
<rect x="867" y="300" width="2" height="1" fill="#8f8f8f" fill-opacity="0.4"/>
<rect x="65" y="290" width="1" height="1" fill="#8f8f8f" fill-opacity="0.35"/>
<rect x="867" y="290" width="2" height="1" fill="#8f8f8f" fill-opacity="0.4"/>
<rect x="64" y="281" width="2" height="1" fill="#de4f4f" fill-opacity="0.4"/>
<rect x="867" y="281" width="2" height="1" fill="#de4f4f" fill-opacity="0.5"/>
<rect x="65" y="271" width="1" height="1" fill="#8f8f8f" fill-opacity="0.35"/>
<rect x="867" y="271" width="2" height="1" fill="#8f8f8f" fill-opacity="0.4"/>
<rect x="65" y="262" width="1" height="1" fill="#8f8f8f" fill-opacity="0.35"/>
<rect x="867" y="262" width="2" height="1" fill="#8f8f8f" fill-opacity="0.4"/>
<rect x="65" y="252" width="1" height="1" fill="#8f8f8f" fill-opacity="0.35"/>
<rect x="867" y="252" width="2" height="1" fill="#8f8f8f" fill-opacity="0.4"/>
<rect x="65" y="243" width="1" height="1" fill="#8f8f8f" fill-opacity="0.35"/>
<rect x="867" y="243" width="2" height="1" fill="#8f8f8f" fill-opacity="0.4"/>
<rect x="64" y="233" width="2" height="1" fill="#de4f4f" fill-opacity="0.4"/>
<rect x="867" y="233" width="2" height="1" fill="#de4f4f" fill-opacity="0.5"/>
<rect x="65" y="224" width="1" height="1" fill="#8f8f8f" fill-opacity="0.35"/>
<rect x="867" y="224" width="2" height="1" fill="#8f8f8f" fill-opacity="0.4"/>
<rect x="65" y="214" width="1" height="1" fill="#8f8f8f" fill-opacity="0.35"/>
<rect x="867" y="214" width="2" height="1" fill="#8f8f8f" fill-opacity="0.4"/>
<rect x="65" y="205" width="1" height="1" fill="#8f8f8f" fill-opacity="0.35"/>
<rect x="867" y="205" width="2" height="1" fill="#8f8f8f" fill-opacity="0.4"/>
<rect x="65" y="196" width="1" height="1" fill="#8f8f8f" fill-opacity="0.35"/>
<rect x="867" y="196" width="2" height="1" fill="#8f8f8f" fill-opacity="0.4"/>
<rect x="64" y="186" width="2" height="1" fill="#de4f4f" fill-opacity="0.4"/>
<rect x="867" y="186" width="2" height="1" fill="#de4f4f" fill-opacity="0.5"/>
<rect x="65" y="177" width="1" height="1" fill="#8f8f8f" fill-opacity="0.35"/>
<rect x="867" y="177" width="2" height="1" fill="#8f8f8f" fill-opacity="0.4"/>
<rect x="65" y="167" width="1" height="1" fill="#8f8f8f" fill-opacity="0.35"/>
<rect x="867" y="167" width="2" height="1" fill="#8f8f8f" fill-opacity="0.4"/>
<rect x="65" y="158" width="1" height="1" fill="#8f8f8f" fill-opacity="0.35"/>
<rect x="867" y="158" width="2" height="1" fill="#8f8f8f" fill-opacity="0.4"/>
<rect x="65" y="148" width="1" height="1" fill="#8f8f8f" fill-opacity="0.35"/>
<rect x="867" y="148" width="2" height="1" fill="#8f8f8f" fill-opacity="0.4"/>
<rect x="64" y="139" width="2" height="1" fill="#de4f4f" fill-opacity="0.4"/>
<rect x="867" y="139" width="2" height="1" fill="#de4f4f" fill-opacity="0.5"/>
<rect x="65" y="129" width="1" height="1" fill="#8f8f8f" fill-opacity="0.35"/>
<rect x="867" y="129" width="2" height="1" fill="#8f8f8f" fill-opacity="0.4"/>
<rect x="65" y="120" width="1" height="1" fill="#8f8f8f" fill-opacity="0.35"/>
<rect x="867" y="120" width="2" height="1" fill="#8f8f8f" fill-opacity="0.4"/>
<rect x="65" y="110" width="1" height="1" fill="#8f8f8f" fill-opacity="0.35"/>
<rect x="867" y="110" width="2" height="1" fill="#8f8f8f" fill-opacity="0.4"/>
<rect x="65" y="101" width="1" height="1" fill="#8f8f8f" fill-opacity="0.35"/>
<rect x="867" y="101" width="2" height="1" fill="#8f8f8f" fill-opacity="0.4"/>
<rect x="64" y="91" width="2" height="1" fill="#de4f4f" fill-opacity="0.4"/>
<rect x="867" y="91" width="2" height="1" fill="#de4f4f" fill-opacity="0.5"/>
<rect x="65" y="82" width="1" height="1" fill="#8f8f8f" fill-opacity="0.35"/>
<rect x="867" y="82" width="2" height="1" fill="#8f8f8f" fill-opacity="0.4"/>
<rect x="65" y="72" width="1" height="1" fill="#8f8f8f" fill-opacity="0.35"/>
<rect x="867" y="72" width="2" height="1" fill="#8f8f8f" fill-opacity="0.4"/>
<rect x="65" y="63" width="1" height="1" fill="#8f8f8f" fill-opacity="0.35"/>
<rect x="867" y="63" width="2" height="1" fill="#8f8f8f" fill-opacity="0.4"/>
<rect x="65" y="54" width="1" height="1" fill="#8f8f8f" fill-opacity="0.35"/>
<rect x="867" y="54" width="2" height="1" fill="#8f8f8f" fill-opacity="0.4"/>
<rect x="64" y="44" width="2" height="1" fill="#de4f4f" fill-opacity="0.4"/>
<rect x="867" y="44" width="2" height="1" fill="#de4f4f" fill-opacity="0.5"/>
<rect x="65" y="35" width="1" height="1" fill="#8f8f8f" fill-opacity="0.35"/>
<rect x="867" y="35" width="2" height="1" fill="#8f8f8f" fill-opacity="0.4"/>
</g>
<g shape-rendering="crispEdges">
<rect x="63" y="328" width="808" height="1" fill="#5c5c5c"/>
<rect x="67" y="328" width="799" height="1" fill="#000"/>
<rect x="66" y="24" width="1" height="308" fill="#5c5c5c"/>
</g>
<path d="M66.9 21L64 25.8H69.8Z" fill="#801f1f"/>
<path d="M873.6 328L868.8 325.1V330.9Z" fill="#801f1f"/>
<text x="235.8 243.8 251.8 259.8 267.8 275.8 283.8 291.8 299.8 307.8 315.8 323.8 331.8 339.8 347.8 355.8 363.8 371.8 379.8 387.8 395.8 403.8 411.8 419.8 427.8 435.8 443.8 451.8 459.8 467.8 475.8 483.8 491.8 499.8 507.8 515.8 523.8 531.8 539.8 547.8 555.8 563.8 571.8 579.8 587.8 595.8 603.8 611.8 619.8 627.8 635.8 643.8 651.8" y="24" font-size="12.5" font-family="DejaVu Sans Mono, Liberation Mono, monospace" fill="#000" xml:space="preserve" style="white-space:pre" >Last 360 Days from ip-172-31-11-228 to Frontier Tampa</text>
<text x="42" y="332.3" font-size="10" font-family="DejaVu Sans Mono, Liberation Mono, monospace" fill="#000" xml:space="preserve" style="white-space:pre" >0</text>
<text x="36 42 48 54" y="285.3" font-size="10" font-family="DejaVu Sans Mono, Liberation Mono, monospace" fill="#000" xml:space="preserve" style="white-space:pre" >10 m</text>
<text x="36 42 48 54" y="237.3" font-size="10" font-family="DejaVu Sans Mono, Liberation Mono, monospace" fill="#000" xml:space="preserve" style="white-space:pre" >20 m</text>
<text x="36 42 48 54" y="190.3" font-size="10" font-family="DejaVu Sans Mono, Liberation Mono, monospace" fill="#000" xml:space="preserve" style="white-space:pre" >30 m</text>
<text x="36 42 48 54" y="143.3" font-size="10" font-family="DejaVu Sans Mono, Liberation Mono, monospace" fill="#000" xml:space="preserve" style="white-space:pre" >40 m</text>
<text x="36 42 48 54" y="95.3" font-size="10" font-family="DejaVu Sans Mono, Liberation Mono, monospace" fill="#000" xml:space="preserve" style="white-space:pre" >50 m</text>
<text x="36 42 48 54" y="48.3" font-size="10" font-family="DejaVu Sans Mono, Liberation Mono, monospace" fill="#000" xml:space="preserve" style="white-space:pre" >60 m</text>
<text x="112 118 124 130 136 142 148" y="341" font-size="10" font-family="DejaVu Sans Mono, Liberation Mono, monospace" fill="#000" xml:space="preserve" style="white-space:pre" >Jan '25</text>
<text x="181 187 193 199 205 211 217" y="341" font-size="10" font-family="DejaVu Sans Mono, Liberation Mono, monospace" fill="#000" xml:space="preserve" style="white-space:pre" >Feb '25</text>
<text x="243 249 255 261 267 273 279" y="341" font-size="10" font-family="DejaVu Sans Mono, Liberation Mono, monospace" fill="#000" xml:space="preserve" style="white-space:pre" >Mar '25</text>
<text x="312 318 324 330 336 342 348" y="341" font-size="10" font-family="DejaVu Sans Mono, Liberation Mono, monospace" fill="#000" xml:space="preserve" style="white-space:pre" >Apr '25</text>
<text x="379 385 391 397 403 409 415" y="341" font-size="10" font-family="DejaVu Sans Mono, Liberation Mono, monospace" fill="#000" xml:space="preserve" style="white-space:pre" >May '25</text>
<text x="448 454 460 466 472 478 484" y="341" font-size="10" font-family="DejaVu Sans Mono, Liberation Mono, monospace" fill="#000" xml:space="preserve" style="white-space:pre" >Jun '25</text>
<text x="514 520 526 532 538 544 550" y="341" font-size="10" font-family="DejaVu Sans Mono, Liberation Mono, monospace" fill="#000" xml:space="preserve" style="white-space:pre" >Jul '25</text>
<text x="583 589 595 601 607 613 619" y="341" font-size="10" font-family="DejaVu Sans Mono, Liberation Mono, monospace" fill="#000" xml:space="preserve" style="white-space:pre" >Aug '25</text>
<text x="652 658 664 670 676 682 688" y="341" font-size="10" font-family="DejaVu Sans Mono, Liberation Mono, monospace" fill="#000" xml:space="preserve" style="white-space:pre" >Sep '25</text>
<text x="719 725 731 737 743 749 755" y="341" font-size="10" font-family="DejaVu Sans Mono, Liberation Mono, monospace" fill="#000" xml:space="preserve" style="white-space:pre" >Oct '25</text>
<text x="788 794 800 806 812 818 824" y="341" font-size="10" font-family="DejaVu Sans Mono, Liberation Mono, monospace" fill="#000" xml:space="preserve" style="white-space:pre" >Nov '25</text>
<g transform="translate(14,202) rotate(-90)">
<text x="0 7 14 21 28 35 42" y="0" font-size="11.11" font-family="DejaVu Sans Mono, Liberation Mono, monospace" fill="#000" xml:space="preserve" style="white-space:pre" >Seconds</text>
</g>
<g transform="translate(884.5,5) rotate(90)" opacity="0.33">
<text x="0 5 10 15 20 25 30 35 40 45 50 55 60 65 70 75 80 85 90 95 100 105" y="0" font-size="8.33" font-family="DejaVu Sans Mono, Liberation Mono, monospace" fill="#000" xml:space="preserve" style="white-space:pre" >RRDTOOL / TOBI OETIKER</text>
</g>
<text x="16 23 30 37 44 51 58 65 72 79 86 93 100 107 114 121 128 135 142 149 156 163 170 177" y="358" font-size="11.11" font-family="DejaVu Sans Mono, Liberation Mono, monospace" fill="#000" xml:space="preserve" style="white-space:pre" >median rtt:  44.0 ms avg</text>
<text x="200 207 214 221 228 235 242 249 256 263 270" y="358" font-size="11.11" font-family="DejaVu Sans Mono, Liberation Mono, monospace" fill="#000" xml:space="preserve" style="white-space:pre" >52.7 ms max</text>
<text x="293 300 307 314 321 328 335 342 349 356 363" y="358" font-size="11.11" font-family="DejaVu Sans Mono, Liberation Mono, monospace" fill="#000" xml:space="preserve" style="white-space:pre" >40.3 ms min</text>
<text x="386 393 400 407 414 421 428 435 442 449 456" y="358" font-size="11.11" font-family="DejaVu Sans Mono, Liberation Mono, monospace" fill="#000" xml:space="preserve" style="white-space:pre" >46.0 ms now</text>
<text x="479 486 493 500 507 514 521 528 535" y="358" font-size="11.11" font-family="DejaVu Sans Mono, Liberation Mono, monospace" fill="#000" xml:space="preserve" style="white-space:pre" >2.4 ms sd</text>
<text x="558 565 572 579 586 593 600 607 614 621 628" y="358" font-size="11.11" font-family="DejaVu Sans Mono, Liberation Mono, monospace" fill="#000" xml:space="preserve" style="white-space:pre" >18.0   am/s</text>
<text x="16 23 30 37 44 51 58 65 72 79 86 93 100 107 114 121 128 135 142 149 156 163 170 177" y="372" font-size="11.11" font-family="DejaVu Sans Mono, Liberation Mono, monospace" fill="#000" xml:space="preserve" style="white-space:pre" >packet loss: 52.80 % avg</text>
<text x="200 207 214 221 228 235 242 249 256 263 270 277" y="372" font-size="11.11" font-family="DejaVu Sans Mono, Liberation Mono, monospace" fill="#000" xml:space="preserve" style="white-space:pre" >100.00 % max</text>
<text x="300 307 314 321 328 335 342 349 356 363" y="372" font-size="11.11" font-family="DejaVu Sans Mono, Liberation Mono, monospace" fill="#000" xml:space="preserve" style="white-space:pre" >0.00 % min</text>
<text x="386 393 400 407 414 421 428 435 442 449 456 463" y="372" font-size="11.11" font-family="DejaVu Sans Mono, Liberation Mono, monospace" fill="#000" xml:space="preserve" style="white-space:pre" >100.00 % now</text>
<text x="16 23 30 37 44 51 58 65 72 79 86" y="386" font-size="11.11" font-family="DejaVu Sans Mono, Liberation Mono, monospace" fill="#000" xml:space="preserve" style="white-space:pre" >loss color:</text>
<rect x="107.5" y="376.5" width="10" height="11" fill="#fff" opacity="0.8"/>
<rect x="108.5" y="377.5" width="8" height="9" fill="#26ff00" stroke="#000" stroke-width="1"/>
<text x="123" y="386" font-size="11.11" font-family="DejaVu Sans Mono, Liberation Mono, monospace" fill="#000" xml:space="preserve" style="white-space:pre" >0</text>
<rect x="144.5" y="376.5" width="10" height="11" fill="#fff" opacity="0.8"/>
<rect x="145.5" y="377.5" width="8" height="9" fill="#00b8ff" stroke="#000" stroke-width="1"/>
<text x="160" y="386" font-size="11.11" font-family="DejaVu Sans Mono, Liberation Mono, monospace" fill="#000" xml:space="preserve" style="white-space:pre" >1</text>
<rect x="181.5" y="376.5" width="10" height="11" fill="#fff" opacity="0.8"/>
<rect x="182.5" y="377.5" width="8" height="9" fill="#0059ff" stroke="#000" stroke-width="1"/>
<text x="197" y="386" font-size="11.11" font-family="DejaVu Sans Mono, Liberation Mono, monospace" fill="#000" xml:space="preserve" style="white-space:pre" >2</text>
<rect x="218.5" y="376.5" width="10" height="11" fill="#fff" opacity="0.8"/>
<rect x="219.5" y="377.5" width="8" height="9" fill="#7e00ff" stroke="#000" stroke-width="1"/>
<text x="234" y="386" font-size="11.11" font-family="DejaVu Sans Mono, Liberation Mono, monospace" fill="#000" xml:space="preserve" style="white-space:pre" >3</text>
<rect x="255.5" y="376.5" width="10" height="11" fill="#fff" opacity="0.8"/>
<rect x="256.5" y="377.5" width="8" height="9" fill="#ff00ff" stroke="#000" stroke-width="1"/>
<text x="271 278 285" y="386" font-size="11.11" font-family="DejaVu Sans Mono, Liberation Mono, monospace" fill="#000" xml:space="preserve" style="white-space:pre" >4-5</text>
<rect x="306.5" y="376.5" width="10" height="11" fill="#fff" opacity="0.8"/>
<rect x="307.5" y="377.5" width="8" height="9" fill="#ff5500" stroke="#000" stroke-width="1"/>
<text x="322 329 336 343" y="386" font-size="11.11" font-family="DejaVu Sans Mono, Liberation Mono, monospace" fill="#000" xml:space="preserve" style="white-space:pre" >6-10</text>
<rect x="364.5" y="376.5" width="10" height="11" fill="#fff" opacity="0.8"/>
<rect x="365.5" y="377.5" width="8" height="9" fill="#ff0000" stroke="#000" stroke-width="1"/>
<text x="380 387 394 401 408" y="386" font-size="11.11" font-family="DejaVu Sans Mono, Liberation Mono, monospace" fill="#000" xml:space="preserve" style="white-space:pre" >11-19</text>
<rect x="429.5" y="376.5" width="10" height="11" fill="#fff" opacity="0.8"/>
<rect x="430.5" y="377.5" width="8" height="9" fill="#a00000" stroke="#000" stroke-width="1"/>
<text x="445 452 459 466 473" y="386" font-size="11.11" font-family="DejaVu Sans Mono, Liberation Mono, monospace" fill="#000" xml:space="preserve" style="white-space:pre" >20/20</text>
<text x="16 23 30 37 44 51 58 65 72 79 86 93 100 107 114 121 128 135 142 149 156 163 170 177 184 191 198 205 212 219 226 233 240 247 254 261 268 275 282 289 296 303 310 317 324 331 338 345 352 359 366 373" y="400" font-size="11.11" font-family="DejaVu Sans Mono, Liberation Mono, monospace" fill="#000" xml:space="preserve" style="white-space:pre" >probe:       20 ICMP Echo Pings (56 Bytes) every 60s</text>
<text x="713.2 720.2 727.2 734.2 741.2 748.2 755.2 762.2 769.2 776.2 783.2 790.2 797.2 804.2 811.2 818.2 825.2 832.2 839.2 846.2 853.2 860.2 867.2 874.2" y="400" font-size="11.11" font-family="DejaVu Sans Mono, Liberation Mono, monospace" fill="#000" xml:space="preserve" style="white-space:pre" >Fri Dec 12 00:52:35 2025</text>
</svg>
</body></html>
